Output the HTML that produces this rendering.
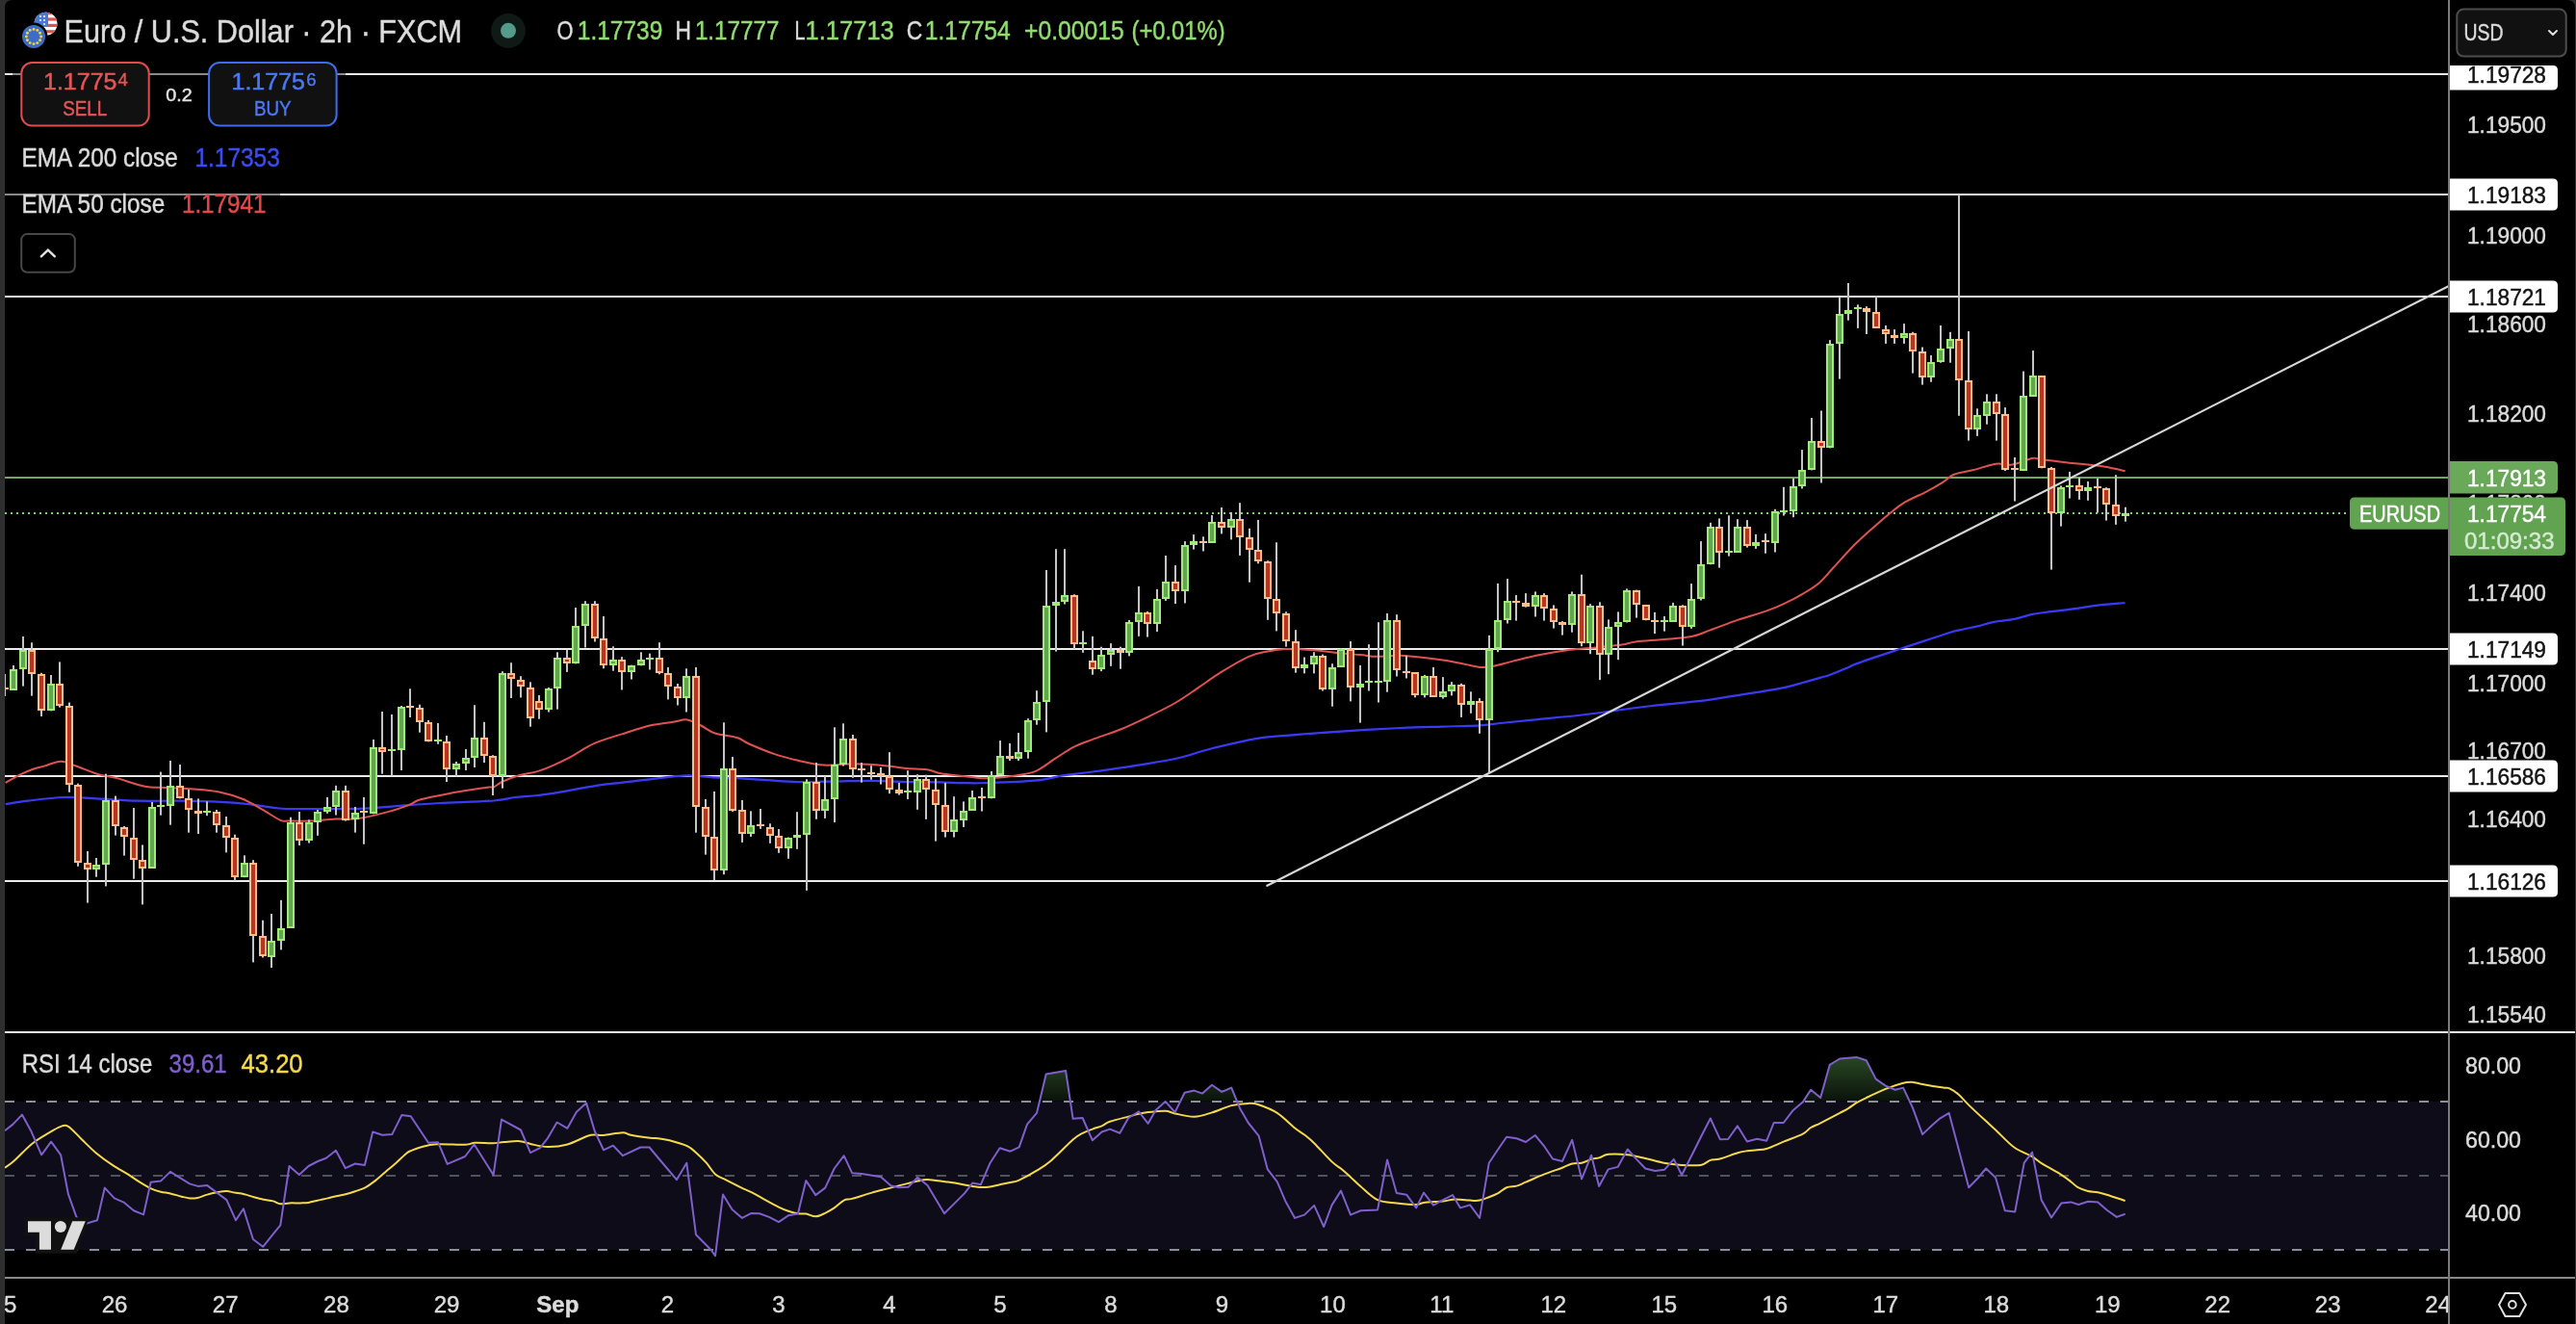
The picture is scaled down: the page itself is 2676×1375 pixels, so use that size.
<!DOCTYPE html><html><head><meta charset="utf-8"><style>
html,body{margin:0;padding:0;background:#2e2e2e;}
body{width:2676px;height:1375px;overflow:hidden;position:relative;}
svg{position:absolute;left:0;top:0;display:block;will-change:transform;}
text{font-family:"Liberation Sans", sans-serif;}
</style></head><body>
<svg width="2676" height="1375" viewBox="0 0 2676 1375">
<defs>
<clipPath id="chartclip"><rect x="5" y="0" width="2538" height="1071"/></clipPath>
<clipPath id="rsiclip"><rect x="5" y="1073" width="2538" height="253"/></clipPath>
<clipPath id="obclip"><rect x="5" y="1073" width="2538" height="70.7"/></clipPath>
<linearGradient id="obg" x1="0" y1="1095" x2="0" y2="1144" gradientUnits="userSpaceOnUse">
<stop offset="0" stop-color="#2a4a26" stop-opacity="1"/><stop offset="1" stop-color="#0a120a" stop-opacity="1"/></linearGradient>
</defs>
<path d="M5,8 Q5,0 13,0 L2667,0 Q2675,0 2675,8 L2675,1375 L5,1375 Z" fill="#000"/>

<g clip-path="url(#chartclip)">
<rect x="5" y="76" width="2538" height="2" fill="#ebebeb"/>
<rect x="5" y="201" width="2538" height="2" fill="#ebebeb"/>
<rect x="5" y="307" width="2538" height="2" fill="#ebebeb"/>
<rect x="5" y="673" width="2538" height="2" fill="#ebebeb"/>
<rect x="5" y="805" width="2538" height="2" fill="#ebebeb"/>
<rect x="5" y="914" width="2538" height="2" fill="#ebebeb"/>
<rect x="5" y="495" width="2538" height="2" fill="#6ea85c"/>
<rect x="13" y="76" width="346" height="2" fill="#8a8a8a"/>
<rect x="5" y="201" width="286" height="2" fill="#8a8a8a"/>
<line x1="5" y1="533" x2="2441" y2="533" stroke="#7ed46a" stroke-width="2" stroke-dasharray="2 4"/>
<path d="M5.7,835.2 C9.5,834.6 18.6,832.9 28.7,831.7 C38.8,830.5 54.0,828.4 66.0,828.0 C78.0,827.6 87.6,828.8 100.5,829.4 C113.4,830.0 129.2,831.3 143.5,831.7 C157.8,832.1 172.2,831.5 186.6,831.7 C200.9,831.9 217.6,832.3 229.6,832.9 C241.6,833.5 248.2,834.1 258.3,835.2 C268.4,836.3 279.6,838.7 289.9,839.5 C300.2,840.3 310.3,839.9 320.0,840.0 C329.7,840.1 337.5,840.1 348.3,840.0 C359.1,839.9 372.5,839.9 384.6,839.3 C396.7,838.7 408.7,837.3 420.8,836.4 C432.9,835.5 441.8,834.8 457.1,834.0 C472.4,833.2 499.7,832.5 512.7,831.5 C525.7,830.5 527.3,828.9 535.0,828.0 C542.7,827.1 549.8,827.1 559.0,826.0 C568.2,824.9 580.7,822.7 590.4,821.1 C600.1,819.5 606.9,817.8 617.0,816.3 C627.1,814.8 639.1,813.6 650.8,812.2 C662.5,810.8 676.6,809.0 687.1,807.9 C697.6,806.8 704.4,805.5 713.7,805.4 C723.0,805.3 734.1,806.9 742.7,807.4 C751.3,807.9 756.5,807.7 765.4,808.2 C774.3,808.7 785.7,809.6 796.3,810.2 C806.9,810.8 816.8,811.8 828.9,812.0 C841.0,812.2 856.1,811.7 868.8,811.5 C881.5,811.3 892.9,810.8 905.0,810.9 C917.1,811.0 929.2,811.8 941.3,812.0 C953.4,812.2 967.7,812.2 977.5,812.4 C987.3,812.6 992.3,813.0 1000.0,813.1 C1007.7,813.2 1011.4,813.5 1023.8,813.1 C1036.2,812.7 1060.9,812.0 1074.6,810.7 C1088.3,809.4 1095.9,806.6 1106.0,805.1 C1116.1,803.6 1120.9,803.5 1135.0,801.5 C1149.1,799.5 1175.6,795.7 1190.6,793.3 C1205.6,790.9 1214.0,789.5 1225.0,787.0 C1236.0,784.5 1243.0,781.3 1256.3,778.0 C1269.6,774.7 1291.3,769.5 1304.6,767.1 C1317.9,764.8 1321.9,765.1 1336.0,763.9 C1350.1,762.7 1369.4,761.1 1389.2,759.8 C1409.0,758.5 1436.8,756.9 1455.0,756.0 C1473.2,755.1 1484.6,755.0 1498.3,754.6 C1512.0,754.2 1526.9,754.0 1537.0,753.4 C1547.1,752.8 1549.1,752.0 1558.8,751.0 C1568.5,750.0 1580.9,748.7 1595.0,747.3 C1609.1,745.9 1628.4,744.2 1643.4,742.5 C1658.4,740.8 1672.8,738.6 1685.0,737.0 C1697.2,735.4 1703.0,734.5 1716.3,733.0 C1729.6,731.5 1748.5,730.2 1764.6,728.2 C1780.7,726.2 1798.8,723.1 1812.9,720.9 C1827.0,718.7 1839.1,716.9 1849.2,714.9 C1859.3,712.9 1866.2,710.7 1873.4,708.8 C1880.7,706.9 1888.3,704.6 1892.7,703.3 C1897.1,702.0 1895.5,702.9 1900.0,701.2 C1904.5,699.5 1915.0,695.3 1919.8,693.3 C1924.6,691.3 1920.4,692.2 1929.0,689.1 C1937.6,686.0 1959.6,678.7 1971.3,674.8 C1983.0,670.9 1990.0,668.6 1999.0,665.6 C2008.0,662.6 2018.8,659.0 2025.4,657.0 C2032.0,655.0 2033.8,654.8 2038.6,653.7 C2043.4,652.6 2048.9,651.7 2054.4,650.4 C2059.9,649.1 2065.2,647.0 2071.6,645.8 C2078.0,644.5 2086.1,644.2 2092.7,642.9 C2099.3,641.6 2104.8,639.2 2111.2,637.9 C2117.6,636.6 2123.3,636.2 2131.0,635.2 C2138.7,634.2 2149.7,633.0 2157.4,631.9 C2165.1,630.8 2168.8,629.9 2177.2,628.9 C2185.5,627.9 2202.4,626.5 2207.5,626.0" fill="none" stroke="#3a3af6" stroke-width="2.2" stroke-linejoin="round"/>
<path d="M5.7,813.0 C8.3,811.5 16.7,806.6 21.5,804.2 C26.3,801.8 30.3,800.1 34.4,798.7 C38.5,797.3 41.1,796.9 45.9,795.6 C50.7,794.3 57.8,790.8 63.1,790.7 C68.4,790.6 71.3,792.9 77.5,795.0 C83.7,797.1 93.3,801.5 100.5,803.6 C107.7,805.8 112.4,805.8 120.5,807.9 C128.6,810.0 140.7,814.8 149.3,816.5 C157.9,818.2 163.6,817.5 172.2,818.0 C180.8,818.5 191.8,818.7 200.9,819.4 C210.0,820.1 218.1,820.5 226.7,822.3 C235.3,824.1 244.9,826.9 252.6,830.0 C260.3,833.1 266.2,837.3 272.7,840.9 C279.1,844.5 286.8,849.8 291.3,851.8 C295.9,853.8 294.5,852.5 300.0,852.6 C305.5,852.7 316.1,852.9 324.2,852.6 C332.2,852.3 340.2,851.0 348.3,850.6 C356.4,850.2 363.2,851.4 372.5,850.1 C381.8,848.8 395.0,845.3 403.9,842.9 C412.8,840.5 420.5,837.6 425.7,835.6 C430.9,833.6 430.1,832.4 435.3,830.8 C440.5,829.2 449.0,827.6 457.1,826.0 C465.2,824.4 475.2,822.5 483.7,821.1 C492.2,819.7 503.1,818.1 507.9,817.5 C512.7,816.9 510.3,818.5 512.7,817.5 C515.1,816.5 517.9,813.6 522.4,811.5 C526.9,809.4 533.5,806.9 540.0,805.0 C546.5,803.1 553.0,803.1 561.4,800.1 C569.8,797.1 581.1,792.0 590.4,787.3 C599.7,782.6 607.7,776.2 617.0,772.1 C626.3,768.0 636.3,765.5 646.0,762.4 C655.7,759.3 666.1,755.6 675.0,753.5 C683.9,751.4 692.8,750.8 699.2,749.8 C705.7,748.8 708.9,746.8 713.7,747.4 C718.5,748.0 723.4,751.1 728.2,753.5 C733.0,755.9 736.5,759.4 742.7,761.5 C748.9,763.6 759.7,764.2 765.6,766.0 C771.5,767.8 771.5,769.6 778.1,772.5 C784.7,775.4 796.8,780.5 805.3,783.4 C813.8,786.3 820.4,787.8 828.9,789.7 C837.4,791.6 846.4,794.0 856.1,794.6 C865.8,795.2 876.3,793.2 886.9,793.3 C897.5,793.4 910.4,794.4 919.5,795.2 C928.6,796.0 934.0,797.2 941.3,797.9 C948.5,798.6 957.0,798.4 963.0,799.3 C969.0,800.2 972.2,802.3 977.5,803.3 C982.8,804.3 987.7,804.7 995.0,805.5 C1002.3,806.3 1014.2,808.0 1021.4,808.3 C1028.6,808.6 1032.2,808.0 1038.3,807.5 C1044.3,807.0 1051.2,806.3 1057.7,805.1 C1064.2,803.9 1070.6,803.2 1077.0,800.3 C1083.4,797.4 1089.8,791.8 1096.3,787.7 C1102.8,783.6 1109.2,778.9 1115.7,775.6 C1122.2,772.3 1127.0,770.9 1135.0,767.9 C1143.0,764.9 1154.7,761.2 1164.0,757.5 C1173.3,753.8 1181.3,749.9 1190.6,745.4 C1199.9,740.9 1211.1,735.6 1220.0,730.5 C1228.9,725.4 1236.2,720.0 1244.2,714.6 C1252.2,709.2 1259.5,703.7 1268.3,698.2 C1277.1,692.7 1289.2,685.4 1297.3,681.8 C1305.4,678.2 1310.2,677.7 1316.7,676.4 C1323.2,675.1 1328.0,674.2 1336.0,674.0 C1344.0,673.8 1356.1,674.5 1365.0,675.2 C1373.9,675.9 1381.1,677.3 1389.2,678.1 C1397.3,678.9 1406.6,679.5 1413.4,680.1 C1420.2,680.7 1423.4,681.7 1430.3,681.8 C1437.2,681.9 1446.5,680.5 1455.0,680.7 C1463.5,681.0 1472.2,682.2 1481.4,683.3 C1490.6,684.4 1501.1,685.8 1510.4,687.4 C1519.7,689.0 1530.2,692.2 1537.0,692.9 C1543.8,693.6 1545.9,692.7 1551.5,691.7 C1557.1,690.7 1562.8,688.8 1570.8,686.9 C1578.8,685.0 1589.7,682.1 1599.8,680.1 C1609.9,678.1 1621.6,676.1 1631.3,674.8 C1641.0,673.5 1649.0,673.3 1657.9,672.4 C1666.9,671.5 1678.1,670.6 1685.0,669.6 C1691.9,668.6 1692.1,667.4 1699.3,666.5 C1706.5,665.6 1718.6,665.0 1728.3,664.1 C1738.0,663.2 1749.2,662.6 1757.3,661.0 C1765.4,659.4 1768.6,657.3 1776.7,654.4 C1784.8,651.5 1796.0,646.9 1805.7,643.6 C1815.4,640.3 1826.7,637.4 1834.7,634.6 C1842.8,631.8 1847.5,629.7 1854.0,626.6 C1860.5,623.5 1867.4,619.9 1873.4,616.3 C1879.5,612.7 1885.1,609.4 1890.3,604.9 C1895.5,600.4 1898.5,596.0 1904.8,589.2 C1911.1,582.4 1920.3,571.8 1928.3,564.0 C1936.2,556.2 1944.4,549.1 1952.5,542.2 C1960.6,535.4 1968.7,528.1 1976.7,522.9 C1984.8,517.7 1994.0,514.4 2000.8,510.8 C2007.6,507.2 2013.0,504.1 2017.8,501.1 C2022.6,498.1 2024.6,494.8 2029.8,492.7 C2035.0,490.6 2041.9,490.1 2049.2,488.3 C2056.5,486.5 2066.6,482.8 2073.4,481.8 C2080.2,480.8 2084.1,483.5 2090.3,482.5 C2096.5,481.5 2106.5,477.0 2110.8,476.0 C2115.1,475.0 2113.5,475.9 2116.2,476.3 C2118.9,476.7 2121.0,477.3 2127.1,478.1 C2133.2,478.9 2144.1,480.0 2152.5,480.9 C2160.9,481.8 2171.8,482.9 2177.8,483.6 C2183.8,484.3 2183.7,484.1 2188.7,485.0 C2193.7,485.9 2204.5,488.5 2207.7,489.2" fill="none" stroke="#e05252" stroke-width="2" stroke-linejoin="round"/>
<rect x="4" y="700.0" width="2" height="23.0" fill="#c4c4c8"/>
<rect x="13" y="691.0" width="2" height="25.6" fill="#c4c4c8"/>
<rect x="23" y="661.0" width="2" height="51.6" fill="#c4c4c8"/>
<rect x="32" y="667.3" width="2" height="55.4" fill="#c4c4c8"/>
<rect x="42" y="698.8" width="2" height="45.2" fill="#c4c4c8"/>
<rect x="52" y="701.0" width="2" height="37.4" fill="#c4c4c8"/>
<rect x="61" y="687.4" width="2" height="47.3" fill="#c4c4c8"/>
<rect x="71" y="729.5" width="2" height="93.3" fill="#c4c4c8"/>
<rect x="80" y="813.6" width="2" height="86.2" fill="#c4c4c8"/>
<rect x="90" y="884.0" width="2" height="53.6" fill="#c4c4c8"/>
<rect x="99" y="891.0" width="2" height="19.7" fill="#c4c4c8"/>
<rect x="109" y="803.6" width="2" height="116.8" fill="#c4c4c8"/>
<rect x="119" y="826.6" width="2" height="41.0" fill="#c4c4c8"/>
<rect x="128" y="858.0" width="2" height="30.6" fill="#c4c4c8"/>
<rect x="138" y="839.0" width="2" height="73.7" fill="#c4c4c8"/>
<rect x="147" y="877.4" width="2" height="62.0" fill="#c4c4c8"/>
<rect x="157" y="833.0" width="2" height="69.0" fill="#c4c4c8"/>
<rect x="166" y="801.6" width="2" height="45.1" fill="#c4c4c8"/>
<rect x="176" y="790.0" width="2" height="66.7" fill="#c4c4c8"/>
<rect x="186" y="794.0" width="2" height="35.4" fill="#c4c4c8"/>
<rect x="195" y="820.0" width="2" height="44.7" fill="#c4c4c8"/>
<rect x="205" y="829.4" width="2" height="36.6" fill="#c4c4c8"/>
<rect x="214" y="832.3" width="2" height="14.9" fill="#c4c4c8"/>
<rect x="224" y="841.0" width="2" height="23.7" fill="#c4c4c8"/>
<rect x="234" y="848.0" width="2" height="37.4" fill="#c4c4c8"/>
<rect x="243" y="866.7" width="2" height="48.0" fill="#c4c4c8"/>
<rect x="253" y="888.3" width="2" height="22.9" fill="#c4c4c8"/>
<rect x="262" y="893.2" width="2" height="106.2" fill="#c4c4c8"/>
<rect x="272" y="955.7" width="2" height="38.8" fill="#c4c4c8"/>
<rect x="281" y="949.0" width="2" height="56.0" fill="#c4c4c8"/>
<rect x="291" y="934.8" width="2" height="51.6" fill="#c4c4c8"/>
<rect x="301" y="848.7" width="2" height="114.8" fill="#c4c4c8"/>
<rect x="310" y="843.0" width="2" height="35.0" fill="#c4c4c8"/>
<rect x="320" y="851.4" width="2" height="24.1" fill="#c4c4c8"/>
<rect x="329" y="841.0" width="2" height="26.8" fill="#c4c4c8"/>
<rect x="339" y="828.0" width="2" height="16.8" fill="#c4c4c8"/>
<rect x="348" y="815.8" width="2" height="30.7" fill="#c4c4c8"/>
<rect x="358" y="815.8" width="2" height="36.8" fill="#c4c4c8"/>
<rect x="368" y="838.0" width="2" height="26.6" fill="#c4c4c8"/>
<rect x="377" y="828.0" width="2" height="48.7" fill="#c4c4c8"/>
<rect x="387" y="768.0" width="2" height="77.3" fill="#c4c4c8"/>
<rect x="396" y="739.0" width="2" height="64.7" fill="#c4c4c8"/>
<rect x="406" y="742.0" width="2" height="63.4" fill="#c4c4c8"/>
<rect x="416" y="733.0" width="2" height="67.0" fill="#c4c4c8"/>
<rect x="425" y="715.3" width="2" height="29.7" fill="#c4c4c8"/>
<rect x="435" y="731.7" width="2" height="29.0" fill="#c4c4c8"/>
<rect x="444" y="748.0" width="2" height="22.4" fill="#c4c4c8"/>
<rect x="454" y="751.0" width="2" height="21.8" fill="#c4c4c8"/>
<rect x="463" y="763.9" width="2" height="48.1" fill="#c4c4c8"/>
<rect x="473" y="791.0" width="2" height="15.0" fill="#c4c4c8"/>
<rect x="483" y="778.0" width="2" height="22.0" fill="#c4c4c8"/>
<rect x="492" y="732.2" width="2" height="64.8" fill="#c4c4c8"/>
<rect x="502" y="749.8" width="2" height="42.3" fill="#c4c4c8"/>
<rect x="511" y="784.2" width="2" height="41.8" fill="#c4c4c8"/>
<rect x="521" y="697.2" width="2" height="121.5" fill="#c4c4c8"/>
<rect x="530" y="688.2" width="2" height="36.8" fill="#c4c4c8"/>
<rect x="540" y="702.2" width="2" height="22.3" fill="#c4c4c8"/>
<rect x="550" y="708.3" width="2" height="46.4" fill="#c4c4c8"/>
<rect x="559" y="722.0" width="2" height="24.7" fill="#c4c4c8"/>
<rect x="569" y="714.0" width="2" height="25.5" fill="#c4c4c8"/>
<rect x="578" y="677.3" width="2" height="59.3" fill="#c4c4c8"/>
<rect x="588" y="675.0" width="2" height="22.9" fill="#c4c4c8"/>
<rect x="597" y="631.0" width="2" height="58.4" fill="#c4c4c8"/>
<rect x="607" y="624.2" width="2" height="48.3" fill="#c4c4c8"/>
<rect x="617" y="624.2" width="2" height="42.3" fill="#c4c4c8"/>
<rect x="626" y="640.0" width="2" height="54.3" fill="#c4c4c8"/>
<rect x="636" y="671.3" width="2" height="25.4" fill="#c4c4c8"/>
<rect x="645" y="682.2" width="2" height="34.3" fill="#c4c4c8"/>
<rect x="655" y="690.6" width="2" height="15.0" fill="#c4c4c8"/>
<rect x="665" y="677.3" width="2" height="14.1" fill="#c4c4c8"/>
<rect x="674" y="678.6" width="2" height="16.9" fill="#c4c4c8"/>
<rect x="684" y="667.2" width="2" height="33.1" fill="#c4c4c8"/>
<rect x="693" y="693.0" width="2" height="33.4" fill="#c4c4c8"/>
<rect x="703" y="710.0" width="2" height="22.5" fill="#c4c4c8"/>
<rect x="712" y="694.3" width="2" height="45.2" fill="#c4c4c8"/>
<rect x="722" y="693.0" width="2" height="171.7" fill="#c4c4c8"/>
<rect x="732" y="830.0" width="2" height="57.6" fill="#c4c4c8"/>
<rect x="741" y="821.9" width="2" height="92.3" fill="#c4c4c8"/>
<rect x="751" y="750.3" width="2" height="157.9" fill="#c4c4c8"/>
<rect x="760" y="786.0" width="2" height="56.9" fill="#c4c4c8"/>
<rect x="770" y="830.9" width="2" height="44.0" fill="#c4c4c8"/>
<rect x="779" y="842.3" width="2" height="26.6" fill="#c4c4c8"/>
<rect x="789" y="840.0" width="2" height="20.8" fill="#c4c4c8"/>
<rect x="799" y="855.3" width="2" height="20.5" fill="#c4c4c8"/>
<rect x="808" y="861.0" width="2" height="24.8" fill="#c4c4c8"/>
<rect x="818" y="869.5" width="2" height="22.3" fill="#c4c4c8"/>
<rect x="827" y="843.2" width="2" height="38.6" fill="#c4c4c8"/>
<rect x="837" y="809.3" width="2" height="115.5" fill="#c4c4c8"/>
<rect x="847" y="792.0" width="2" height="58.8" fill="#c4c4c8"/>
<rect x="856" y="806.0" width="2" height="43.9" fill="#c4c4c8"/>
<rect x="866" y="755.3" width="2" height="98.8" fill="#c4c4c8"/>
<rect x="875" y="751.3" width="2" height="44.2" fill="#c4c4c8"/>
<rect x="885" y="763.0" width="2" height="44.8" fill="#c4c4c8"/>
<rect x="894" y="792.0" width="2" height="20.7" fill="#c4c4c8"/>
<rect x="904" y="795.2" width="2" height="14.5" fill="#c4c4c8"/>
<rect x="914" y="797.0" width="2" height="17.6" fill="#c4c4c8"/>
<rect x="923" y="781.2" width="2" height="43.0" fill="#c4c4c8"/>
<rect x="933" y="812.9" width="2" height="12.7" fill="#c4c4c8"/>
<rect x="942" y="800.2" width="2" height="29.8" fill="#c4c4c8"/>
<rect x="952" y="804.2" width="2" height="36.6" fill="#c4c4c8"/>
<rect x="961" y="804.6" width="2" height="46.2" fill="#c4c4c8"/>
<rect x="971" y="808.4" width="2" height="65.2" fill="#c4c4c8"/>
<rect x="981" y="812.9" width="2" height="56.6" fill="#c4c4c8"/>
<rect x="990" y="827.2" width="2" height="42.3" fill="#c4c4c8"/>
<rect x="1000" y="832.4" width="2" height="26.6" fill="#c4c4c8"/>
<rect x="1009" y="821.0" width="2" height="20.6" fill="#c4c4c8"/>
<rect x="1019" y="818.0" width="2" height="24.6" fill="#c4c4c8"/>
<rect x="1029" y="801.0" width="2" height="28.3" fill="#c4c4c8"/>
<rect x="1038" y="769.1" width="2" height="35.6" fill="#c4c4c8"/>
<rect x="1048" y="772.0" width="2" height="18.0" fill="#c4c4c8"/>
<rect x="1057" y="761.1" width="2" height="28.9" fill="#c4c4c8"/>
<rect x="1067" y="746.2" width="2" height="41.5" fill="#c4c4c8"/>
<rect x="1076" y="717.2" width="2" height="35.5" fill="#c4c4c8"/>
<rect x="1086" y="592.0" width="2" height="168.4" fill="#c4c4c8"/>
<rect x="1096" y="570.2" width="2" height="106.4" fill="#c4c4c8"/>
<rect x="1105" y="570.2" width="2" height="57.3" fill="#c4c4c8"/>
<rect x="1115" y="617.3" width="2" height="56.8" fill="#c4c4c8"/>
<rect x="1124" y="655.3" width="2" height="22.5" fill="#c4c4c8"/>
<rect x="1134" y="660.8" width="2" height="39.9" fill="#c4c4c8"/>
<rect x="1143" y="671.7" width="2" height="25.4" fill="#c4c4c8"/>
<rect x="1153" y="668.1" width="2" height="23.7" fill="#c4c4c8"/>
<rect x="1163" y="671.7" width="2" height="23.0" fill="#c4c4c8"/>
<rect x="1172" y="643.9" width="2" height="37.5" fill="#c4c4c8"/>
<rect x="1182" y="608.9" width="2" height="51.9" fill="#c4c4c8"/>
<rect x="1191" y="635.0" width="2" height="26.6" fill="#c4c4c8"/>
<rect x="1201" y="611.8" width="2" height="44.2" fill="#c4c4c8"/>
<rect x="1210" y="577.0" width="2" height="46.9" fill="#c4c4c8"/>
<rect x="1220" y="587.1" width="2" height="39.9" fill="#c4c4c8"/>
<rect x="1230" y="562.1" width="2" height="64.3" fill="#c4c4c8"/>
<rect x="1239" y="555.1" width="2" height="15.5" fill="#c4c4c8"/>
<rect x="1249" y="557.3" width="2" height="15.2" fill="#c4c4c8"/>
<rect x="1258" y="535.0" width="2" height="29.0" fill="#c4c4c8"/>
<rect x="1268" y="527.0" width="2" height="27.4" fill="#c4c4c8"/>
<rect x="1278" y="531.9" width="2" height="28.5" fill="#c4c4c8"/>
<rect x="1287" y="522.2" width="2" height="54.7" fill="#c4c4c8"/>
<rect x="1297" y="548.8" width="2" height="55.9" fill="#c4c4c8"/>
<rect x="1306" y="539.9" width="2" height="45.4" fill="#c4c4c8"/>
<rect x="1316" y="582.2" width="2" height="61.6" fill="#c4c4c8"/>
<rect x="1325" y="563.3" width="2" height="92.1" fill="#c4c4c8"/>
<rect x="1335" y="635.3" width="2" height="36.3" fill="#c4c4c8"/>
<rect x="1345" y="654.2" width="2" height="44.5" fill="#c4c4c8"/>
<rect x="1354" y="682.5" width="2" height="16.9" fill="#c4c4c8"/>
<rect x="1364" y="677.2" width="2" height="22.2" fill="#c4c4c8"/>
<rect x="1373" y="679.6" width="2" height="37.9" fill="#c4c4c8"/>
<rect x="1383" y="689.2" width="2" height="44.5" fill="#c4c4c8"/>
<rect x="1392" y="673.5" width="2" height="19.1" fill="#c4c4c8"/>
<rect x="1402" y="666.0" width="2" height="62.4" fill="#c4c4c8"/>
<rect x="1412" y="690.9" width="2" height="59.7" fill="#c4c4c8"/>
<rect x="1421" y="669.2" width="2" height="48.3" fill="#c4c4c8"/>
<rect x="1431" y="646.2" width="2" height="83.4" fill="#c4c4c8"/>
<rect x="1440" y="637.0" width="2" height="81.7" fill="#c4c4c8"/>
<rect x="1450" y="638.2" width="2" height="64.3" fill="#c4c4c8"/>
<rect x="1460" y="680.8" width="2" height="23.7" fill="#c4c4c8"/>
<rect x="1469" y="698.5" width="2" height="25.9" fill="#c4c4c8"/>
<rect x="1479" y="700.9" width="2" height="23.5" fill="#c4c4c8"/>
<rect x="1488" y="692.9" width="2" height="30.7" fill="#c4c4c8"/>
<rect x="1498" y="703.1" width="2" height="22.5" fill="#c4c4c8"/>
<rect x="1507" y="708.2" width="2" height="14.2" fill="#c4c4c8"/>
<rect x="1517" y="709.8" width="2" height="35.1" fill="#c4c4c8"/>
<rect x="1527" y="718.3" width="2" height="22.5" fill="#c4c4c8"/>
<rect x="1536" y="725.1" width="2" height="36.7" fill="#c4c4c8"/>
<rect x="1546" y="659.8" width="2" height="143.1" fill="#c4c4c8"/>
<rect x="1555" y="605.9" width="2" height="71.3" fill="#c4c4c8"/>
<rect x="1565" y="601.1" width="2" height="46.4" fill="#c4c4c8"/>
<rect x="1574" y="618.0" width="2" height="26.6" fill="#c4c4c8"/>
<rect x="1584" y="616.1" width="2" height="14.5" fill="#c4c4c8"/>
<rect x="1594" y="614.4" width="2" height="26.1" fill="#c4c4c8"/>
<rect x="1603" y="616.1" width="2" height="28.5" fill="#c4c4c8"/>
<rect x="1613" y="628.4" width="2" height="24.2" fill="#c4c4c8"/>
<rect x="1622" y="645.1" width="2" height="14.5" fill="#c4c4c8"/>
<rect x="1632" y="614.4" width="2" height="42.3" fill="#c4c4c8"/>
<rect x="1642" y="596.7" width="2" height="74.5" fill="#c4c4c8"/>
<rect x="1651" y="627.2" width="2" height="52.0" fill="#c4c4c8"/>
<rect x="1661" y="625.3" width="2" height="80.9" fill="#c4c4c8"/>
<rect x="1670" y="643.4" width="2" height="56.8" fill="#c4c4c8"/>
<rect x="1680" y="635.4" width="2" height="49.8" fill="#c4c4c8"/>
<rect x="1689" y="611.4" width="2" height="35.1" fill="#c4c4c8"/>
<rect x="1699" y="612.6" width="2" height="29.0" fill="#c4c4c8"/>
<rect x="1709" y="627.9" width="2" height="16.4" fill="#c4c4c8"/>
<rect x="1718" y="635.8" width="2" height="22.3" fill="#c4c4c8"/>
<rect x="1728" y="640.0" width="2" height="15.6" fill="#c4c4c8"/>
<rect x="1737" y="625.9" width="2" height="19.6" fill="#c4c4c8"/>
<rect x="1747" y="628.3" width="2" height="42.3" fill="#c4c4c8"/>
<rect x="1756" y="606.1" width="2" height="46.7" fill="#c4c4c8"/>
<rect x="1766" y="562.1" width="2" height="61.4" fill="#c4c4c8"/>
<rect x="1776" y="542.8" width="2" height="43.5" fill="#c4c4c8"/>
<rect x="1785" y="538.4" width="2" height="51.3" fill="#c4c4c8"/>
<rect x="1795" y="535.3" width="2" height="42.3" fill="#c4c4c8"/>
<rect x="1804" y="539.2" width="2" height="34.3" fill="#c4c4c8"/>
<rect x="1814" y="540.1" width="2" height="28.5" fill="#c4c4c8"/>
<rect x="1823" y="554.9" width="2" height="15.0" fill="#c4c4c8"/>
<rect x="1833" y="554.1" width="2" height="20.6" fill="#c4c4c8"/>
<rect x="1843" y="528.8" width="2" height="44.7" fill="#c4c4c8"/>
<rect x="1852" y="505.8" width="2" height="29.7" fill="#c4c4c8"/>
<rect x="1862" y="496.6" width="2" height="40.6" fill="#c4c4c8"/>
<rect x="1871" y="467.1" width="2" height="40.4" fill="#c4c4c8"/>
<rect x="1881" y="434.0" width="2" height="54.4" fill="#c4c4c8"/>
<rect x="1891" y="426.5" width="2" height="75.0" fill="#c4c4c8"/>
<rect x="1900" y="353.2" width="2" height="112.2" fill="#c4c4c8"/>
<rect x="1910" y="308.5" width="2" height="85.1" fill="#c4c4c8"/>
<rect x="1919" y="294.0" width="2" height="38.7" fill="#c4c4c8"/>
<rect x="1929" y="316.3" width="2" height="24.6" fill="#c4c4c8"/>
<rect x="1938" y="318.2" width="2" height="28.8" fill="#c4c4c8"/>
<rect x="1948" y="307.3" width="2" height="33.8" fill="#c4c4c8"/>
<rect x="1958" y="338.0" width="2" height="18.9" fill="#c4c4c8"/>
<rect x="1967" y="342.1" width="2" height="14.8" fill="#c4c4c8"/>
<rect x="1977" y="336.1" width="2" height="20.8" fill="#c4c4c8"/>
<rect x="1986" y="344.8" width="2" height="42.8" fill="#c4c4c8"/>
<rect x="1996" y="360.5" width="2" height="39.1" fill="#c4c4c8"/>
<rect x="2005" y="368.9" width="2" height="27.8" fill="#c4c4c8"/>
<rect x="2015" y="338.0" width="2" height="38.7" fill="#c4c4c8"/>
<rect x="2025" y="344.8" width="2" height="31.9" fill="#c4c4c8"/>
<rect x="2034" y="202.0" width="2" height="229.8" fill="#c4c4c8"/>
<rect x="2044" y="344.0" width="2" height="113.6" fill="#c4c4c8"/>
<rect x="2053" y="424.3" width="2" height="28.5" fill="#c4c4c8"/>
<rect x="2063" y="409.3" width="2" height="31.4" fill="#c4c4c8"/>
<rect x="2073" y="409.3" width="2" height="48.3" fill="#c4c4c8"/>
<rect x="2082" y="423.1" width="2" height="66.0" fill="#c4c4c8"/>
<rect x="2092" y="475.0" width="2" height="45.5" fill="#c4c4c8"/>
<rect x="2101" y="385.6" width="2" height="103.5" fill="#c4c4c8"/>
<rect x="2111" y="364.1" width="2" height="47.6" fill="#c4c4c8"/>
<rect x="2120" y="390.4" width="2" height="95.9" fill="#c4c4c8"/>
<rect x="2130" y="485.0" width="2" height="106.6" fill="#c4c4c8"/>
<rect x="2140" y="504.4" width="2" height="42.2" fill="#c4c4c8"/>
<rect x="2149" y="489.9" width="2" height="27.7" fill="#c4c4c8"/>
<rect x="2159" y="495.9" width="2" height="23.0" fill="#c4c4c8"/>
<rect x="2168" y="500.0" width="2" height="19.8" fill="#c4c4c8"/>
<rect x="2178" y="496.8" width="2" height="35.7" fill="#c4c4c8"/>
<rect x="2187" y="506.2" width="2" height="34.4" fill="#c4c4c8"/>
<rect x="2197" y="493.2" width="2" height="51.6" fill="#c4c4c8"/>
<rect x="2207" y="526.7" width="2" height="15.0" fill="#c4c4c8"/>
<rect x="1" y="714" width="8" height="2" fill="#fcbd8a"/>
<rect x="10" y="695" width="8" height="22" fill="#a0ea78"/>
<rect x="12" y="697" width="4" height="18" fill="#62a550"/>
<rect x="20" y="675" width="8" height="20" fill="#a0ea78"/>
<rect x="22" y="677" width="4" height="16" fill="#62a550"/>
<rect x="29" y="675" width="8" height="25" fill="#fcbd8a"/>
<rect x="31" y="677" width="4" height="21" fill="#b83322"/>
<rect x="39" y="700" width="8" height="38" fill="#fcbd8a"/>
<rect x="41" y="702" width="4" height="34" fill="#b83322"/>
<rect x="49" y="710" width="8" height="28" fill="#a0ea78"/>
<rect x="51" y="712" width="4" height="24" fill="#62a550"/>
<rect x="58" y="710" width="8" height="23" fill="#fcbd8a"/>
<rect x="60" y="712" width="4" height="19" fill="#b83322"/>
<rect x="68" y="733" width="8" height="82" fill="#fcbd8a"/>
<rect x="70" y="735" width="4" height="78" fill="#b83322"/>
<rect x="77" y="815" width="8" height="81" fill="#fcbd8a"/>
<rect x="79" y="817" width="4" height="77" fill="#b83322"/>
<rect x="87" y="896" width="8" height="7" fill="#fcbd8a"/>
<rect x="89" y="898" width="4" height="3" fill="#b83322"/>
<rect x="96" y="898" width="8" height="5" fill="#a0ea78"/>
<rect x="98" y="900" width="4" height="1" fill="#62a550"/>
<rect x="106" y="831" width="8" height="67" fill="#a0ea78"/>
<rect x="108" y="833" width="4" height="63" fill="#62a550"/>
<rect x="116" y="831" width="8" height="27" fill="#fcbd8a"/>
<rect x="118" y="833" width="4" height="23" fill="#b83322"/>
<rect x="125" y="859" width="8" height="10" fill="#fcbd8a"/>
<rect x="127" y="861" width="4" height="6" fill="#b83322"/>
<rect x="135" y="870" width="8" height="23" fill="#fcbd8a"/>
<rect x="137" y="872" width="4" height="19" fill="#b83322"/>
<rect x="144" y="893" width="8" height="9" fill="#fcbd8a"/>
<rect x="146" y="895" width="4" height="5" fill="#b83322"/>
<rect x="154" y="838" width="8" height="64" fill="#a0ea78"/>
<rect x="156" y="840" width="4" height="60" fill="#62a550"/>
<rect x="163" y="836" width="8" height="2" fill="#a0ea78"/>
<rect x="173" y="816" width="8" height="21" fill="#a0ea78"/>
<rect x="175" y="818" width="4" height="17" fill="#62a550"/>
<rect x="183" y="816" width="8" height="13" fill="#fcbd8a"/>
<rect x="185" y="818" width="4" height="9" fill="#b83322"/>
<rect x="192" y="829" width="8" height="12" fill="#fcbd8a"/>
<rect x="194" y="831" width="4" height="8" fill="#b83322"/>
<rect x="202" y="842" width="8" height="3" fill="#fcbd8a"/>
<rect x="211" y="842" width="8" height="2" fill="#a0ea78"/>
<rect x="221" y="843" width="8" height="14" fill="#fcbd8a"/>
<rect x="223" y="845" width="4" height="10" fill="#b83322"/>
<rect x="231" y="857" width="8" height="13" fill="#fcbd8a"/>
<rect x="233" y="859" width="4" height="9" fill="#b83322"/>
<rect x="240" y="870" width="8" height="41" fill="#fcbd8a"/>
<rect x="242" y="872" width="4" height="37" fill="#b83322"/>
<rect x="250" y="896" width="8" height="15" fill="#a0ea78"/>
<rect x="252" y="898" width="4" height="11" fill="#62a550"/>
<rect x="259" y="896" width="8" height="76" fill="#fcbd8a"/>
<rect x="261" y="898" width="4" height="72" fill="#b83322"/>
<rect x="269" y="972" width="8" height="21" fill="#fcbd8a"/>
<rect x="271" y="974" width="4" height="17" fill="#b83322"/>
<rect x="278" y="977" width="8" height="17" fill="#a0ea78"/>
<rect x="280" y="979" width="4" height="13" fill="#62a550"/>
<rect x="288" y="964" width="8" height="13" fill="#a0ea78"/>
<rect x="290" y="966" width="4" height="9" fill="#62a550"/>
<rect x="298" y="854" width="8" height="110" fill="#a0ea78"/>
<rect x="300" y="856" width="4" height="106" fill="#62a550"/>
<rect x="307" y="854" width="8" height="19" fill="#fcbd8a"/>
<rect x="309" y="856" width="4" height="15" fill="#b83322"/>
<rect x="317" y="854" width="8" height="19" fill="#a0ea78"/>
<rect x="319" y="856" width="4" height="15" fill="#62a550"/>
<rect x="326" y="843" width="8" height="11" fill="#a0ea78"/>
<rect x="328" y="845" width="4" height="7" fill="#62a550"/>
<rect x="336" y="838" width="8" height="5" fill="#a0ea78"/>
<rect x="338" y="840" width="4" height="1" fill="#62a550"/>
<rect x="345" y="821" width="8" height="17" fill="#a0ea78"/>
<rect x="347" y="823" width="4" height="13" fill="#62a550"/>
<rect x="355" y="821" width="8" height="31" fill="#fcbd8a"/>
<rect x="357" y="823" width="4" height="27" fill="#b83322"/>
<rect x="365" y="844" width="8" height="7" fill="#a0ea78"/>
<rect x="367" y="846" width="4" height="3" fill="#62a550"/>
<rect x="374" y="842" width="8" height="2" fill="#fcbd8a"/>
<rect x="384" y="776" width="8" height="69" fill="#a0ea78"/>
<rect x="386" y="778" width="4" height="65" fill="#62a550"/>
<rect x="393" y="776" width="8" height="5" fill="#fcbd8a"/>
<rect x="395" y="778" width="4" height="1" fill="#b83322"/>
<rect x="403" y="778" width="8" height="2" fill="#a0ea78"/>
<rect x="413" y="734" width="8" height="45" fill="#a0ea78"/>
<rect x="415" y="736" width="4" height="41" fill="#62a550"/>
<rect x="422" y="733" width="8" height="2" fill="#fcbd8a"/>
<rect x="432" y="735" width="8" height="15" fill="#fcbd8a"/>
<rect x="434" y="737" width="4" height="11" fill="#b83322"/>
<rect x="441" y="750" width="8" height="20" fill="#fcbd8a"/>
<rect x="443" y="752" width="4" height="16" fill="#b83322"/>
<rect x="451" y="768" width="8" height="2" fill="#a0ea78"/>
<rect x="460" y="770" width="8" height="29" fill="#fcbd8a"/>
<rect x="462" y="772" width="4" height="25" fill="#b83322"/>
<rect x="470" y="793" width="8" height="6" fill="#a0ea78"/>
<rect x="472" y="795" width="4" height="2" fill="#62a550"/>
<rect x="480" y="787" width="8" height="6" fill="#a0ea78"/>
<rect x="482" y="789" width="4" height="2" fill="#62a550"/>
<rect x="489" y="766" width="8" height="21" fill="#a0ea78"/>
<rect x="491" y="768" width="4" height="17" fill="#62a550"/>
<rect x="499" y="766" width="8" height="19" fill="#fcbd8a"/>
<rect x="501" y="768" width="4" height="15" fill="#b83322"/>
<rect x="508" y="785" width="8" height="21" fill="#fcbd8a"/>
<rect x="510" y="787" width="4" height="17" fill="#b83322"/>
<rect x="518" y="699" width="8" height="107" fill="#a0ea78"/>
<rect x="520" y="701" width="4" height="103" fill="#62a550"/>
<rect x="527" y="699" width="8" height="6" fill="#fcbd8a"/>
<rect x="529" y="701" width="4" height="2" fill="#b83322"/>
<rect x="537" y="706" width="8" height="7" fill="#fcbd8a"/>
<rect x="539" y="708" width="4" height="3" fill="#b83322"/>
<rect x="547" y="714" width="8" height="32" fill="#fcbd8a"/>
<rect x="549" y="716" width="4" height="28" fill="#b83322"/>
<rect x="556" y="728" width="8" height="9" fill="#fcbd8a"/>
<rect x="558" y="730" width="4" height="5" fill="#b83322"/>
<rect x="566" y="715" width="8" height="22" fill="#a0ea78"/>
<rect x="568" y="717" width="4" height="18" fill="#62a550"/>
<rect x="575" y="683" width="8" height="32" fill="#a0ea78"/>
<rect x="577" y="685" width="4" height="28" fill="#62a550"/>
<rect x="585" y="683" width="8" height="6" fill="#fcbd8a"/>
<rect x="587" y="685" width="4" height="2" fill="#b83322"/>
<rect x="594" y="650" width="8" height="39" fill="#a0ea78"/>
<rect x="596" y="652" width="4" height="35" fill="#62a550"/>
<rect x="604" y="627" width="8" height="23" fill="#a0ea78"/>
<rect x="606" y="629" width="4" height="19" fill="#62a550"/>
<rect x="614" y="627" width="8" height="36" fill="#fcbd8a"/>
<rect x="616" y="629" width="4" height="32" fill="#b83322"/>
<rect x="623" y="663" width="8" height="28" fill="#fcbd8a"/>
<rect x="625" y="665" width="4" height="24" fill="#b83322"/>
<rect x="633" y="685" width="8" height="6" fill="#a0ea78"/>
<rect x="635" y="687" width="4" height="2" fill="#62a550"/>
<rect x="642" y="685" width="8" height="13" fill="#fcbd8a"/>
<rect x="644" y="687" width="4" height="9" fill="#b83322"/>
<rect x="652" y="691" width="8" height="7" fill="#a0ea78"/>
<rect x="654" y="693" width="4" height="3" fill="#62a550"/>
<rect x="662" y="685" width="8" height="6" fill="#a0ea78"/>
<rect x="664" y="687" width="4" height="2" fill="#62a550"/>
<rect x="671" y="683" width="8" height="2" fill="#a0ea78"/>
<rect x="681" y="683" width="8" height="16" fill="#fcbd8a"/>
<rect x="683" y="685" width="4" height="12" fill="#b83322"/>
<rect x="690" y="699" width="8" height="14" fill="#fcbd8a"/>
<rect x="692" y="701" width="4" height="10" fill="#b83322"/>
<rect x="700" y="713" width="8" height="12" fill="#fcbd8a"/>
<rect x="702" y="715" width="4" height="8" fill="#b83322"/>
<rect x="709" y="702" width="8" height="23" fill="#a0ea78"/>
<rect x="711" y="704" width="4" height="19" fill="#62a550"/>
<rect x="719" y="702" width="8" height="136" fill="#fcbd8a"/>
<rect x="721" y="704" width="4" height="132" fill="#b83322"/>
<rect x="729" y="838" width="8" height="31" fill="#fcbd8a"/>
<rect x="731" y="840" width="4" height="27" fill="#b83322"/>
<rect x="738" y="869" width="8" height="35" fill="#fcbd8a"/>
<rect x="740" y="871" width="4" height="31" fill="#b83322"/>
<rect x="748" y="798" width="8" height="106" fill="#a0ea78"/>
<rect x="750" y="800" width="4" height="102" fill="#62a550"/>
<rect x="757" y="798" width="8" height="44" fill="#fcbd8a"/>
<rect x="759" y="800" width="4" height="40" fill="#b83322"/>
<rect x="767" y="841" width="8" height="25" fill="#fcbd8a"/>
<rect x="769" y="843" width="4" height="21" fill="#b83322"/>
<rect x="776" y="857" width="8" height="9" fill="#a0ea78"/>
<rect x="778" y="859" width="4" height="5" fill="#62a550"/>
<rect x="786" y="856" width="8" height="2" fill="#fcbd8a"/>
<rect x="796" y="859" width="8" height="9" fill="#fcbd8a"/>
<rect x="798" y="861" width="4" height="5" fill="#b83322"/>
<rect x="805" y="868" width="8" height="13" fill="#fcbd8a"/>
<rect x="807" y="870" width="4" height="9" fill="#b83322"/>
<rect x="815" y="870" width="8" height="11" fill="#a0ea78"/>
<rect x="817" y="872" width="4" height="7" fill="#62a550"/>
<rect x="824" y="867" width="8" height="3" fill="#a0ea78"/>
<rect x="834" y="812" width="8" height="55" fill="#a0ea78"/>
<rect x="836" y="814" width="4" height="51" fill="#62a550"/>
<rect x="844" y="812" width="8" height="30" fill="#fcbd8a"/>
<rect x="846" y="814" width="4" height="26" fill="#b83322"/>
<rect x="853" y="830" width="8" height="12" fill="#a0ea78"/>
<rect x="855" y="832" width="4" height="8" fill="#62a550"/>
<rect x="863" y="794" width="8" height="36" fill="#a0ea78"/>
<rect x="865" y="796" width="4" height="32" fill="#62a550"/>
<rect x="872" y="767" width="8" height="27" fill="#a0ea78"/>
<rect x="874" y="769" width="4" height="23" fill="#62a550"/>
<rect x="882" y="767" width="8" height="32" fill="#fcbd8a"/>
<rect x="884" y="769" width="4" height="28" fill="#b83322"/>
<rect x="891" y="798" width="8" height="2" fill="#fcbd8a"/>
<rect x="901" y="802" width="8" height="2" fill="#fcbd8a"/>
<rect x="911" y="803" width="8" height="3" fill="#fcbd8a"/>
<rect x="920" y="806" width="8" height="14" fill="#fcbd8a"/>
<rect x="922" y="808" width="4" height="10" fill="#b83322"/>
<rect x="930" y="820" width="8" height="4" fill="#fcbd8a"/>
<rect x="939" y="821" width="8" height="2" fill="#a0ea78"/>
<rect x="949" y="809" width="8" height="14" fill="#a0ea78"/>
<rect x="951" y="811" width="4" height="10" fill="#62a550"/>
<rect x="958" y="809" width="8" height="11" fill="#fcbd8a"/>
<rect x="960" y="811" width="4" height="7" fill="#b83322"/>
<rect x="968" y="820" width="8" height="16" fill="#fcbd8a"/>
<rect x="970" y="822" width="4" height="12" fill="#b83322"/>
<rect x="978" y="836" width="8" height="28" fill="#fcbd8a"/>
<rect x="980" y="838" width="4" height="24" fill="#b83322"/>
<rect x="987" y="851" width="8" height="13" fill="#a0ea78"/>
<rect x="989" y="853" width="4" height="9" fill="#62a550"/>
<rect x="997" y="842" width="8" height="10" fill="#a0ea78"/>
<rect x="999" y="844" width="4" height="6" fill="#62a550"/>
<rect x="1006" y="828" width="8" height="14" fill="#a0ea78"/>
<rect x="1008" y="830" width="4" height="10" fill="#62a550"/>
<rect x="1016" y="827" width="8" height="2" fill="#fcbd8a"/>
<rect x="1026" y="805" width="8" height="24" fill="#a0ea78"/>
<rect x="1028" y="807" width="4" height="20" fill="#62a550"/>
<rect x="1035" y="785" width="8" height="20" fill="#a0ea78"/>
<rect x="1037" y="787" width="4" height="16" fill="#62a550"/>
<rect x="1045" y="785" width="8" height="3" fill="#fcbd8a"/>
<rect x="1054" y="781" width="8" height="7" fill="#a0ea78"/>
<rect x="1056" y="783" width="4" height="3" fill="#62a550"/>
<rect x="1064" y="748" width="8" height="33" fill="#a0ea78"/>
<rect x="1066" y="750" width="4" height="29" fill="#62a550"/>
<rect x="1073" y="729" width="8" height="19" fill="#a0ea78"/>
<rect x="1075" y="731" width="4" height="15" fill="#62a550"/>
<rect x="1083" y="629" width="8" height="100" fill="#a0ea78"/>
<rect x="1085" y="631" width="4" height="96" fill="#62a550"/>
<rect x="1093" y="625" width="8" height="4" fill="#a0ea78"/>
<rect x="1102" y="618" width="8" height="7" fill="#a0ea78"/>
<rect x="1104" y="620" width="4" height="3" fill="#62a550"/>
<rect x="1112" y="618" width="8" height="51" fill="#fcbd8a"/>
<rect x="1114" y="620" width="4" height="47" fill="#b83322"/>
<rect x="1121" y="667" width="8" height="2" fill="#a0ea78"/>
<rect x="1131" y="686" width="8" height="9" fill="#fcbd8a"/>
<rect x="1133" y="688" width="4" height="5" fill="#b83322"/>
<rect x="1140" y="680" width="8" height="15" fill="#a0ea78"/>
<rect x="1142" y="682" width="4" height="11" fill="#62a550"/>
<rect x="1150" y="675" width="8" height="5" fill="#a0ea78"/>
<rect x="1152" y="677" width="4" height="1" fill="#62a550"/>
<rect x="1160" y="675" width="8" height="3" fill="#fcbd8a"/>
<rect x="1169" y="646" width="8" height="32" fill="#a0ea78"/>
<rect x="1171" y="648" width="4" height="28" fill="#62a550"/>
<rect x="1179" y="636" width="8" height="10" fill="#a0ea78"/>
<rect x="1181" y="638" width="4" height="6" fill="#62a550"/>
<rect x="1188" y="636" width="8" height="12" fill="#fcbd8a"/>
<rect x="1190" y="638" width="4" height="8" fill="#b83322"/>
<rect x="1198" y="622" width="8" height="26" fill="#a0ea78"/>
<rect x="1200" y="624" width="4" height="22" fill="#62a550"/>
<rect x="1207" y="604" width="8" height="18" fill="#a0ea78"/>
<rect x="1209" y="606" width="4" height="14" fill="#62a550"/>
<rect x="1217" y="604" width="8" height="10" fill="#fcbd8a"/>
<rect x="1219" y="606" width="4" height="6" fill="#b83322"/>
<rect x="1227" y="566" width="8" height="48" fill="#a0ea78"/>
<rect x="1229" y="568" width="4" height="44" fill="#62a550"/>
<rect x="1236" y="562" width="8" height="4" fill="#a0ea78"/>
<rect x="1246" y="562" width="8" height="2" fill="#fcbd8a"/>
<rect x="1255" y="542" width="8" height="22" fill="#a0ea78"/>
<rect x="1257" y="544" width="4" height="18" fill="#62a550"/>
<rect x="1265" y="542" width="8" height="6" fill="#fcbd8a"/>
<rect x="1267" y="544" width="4" height="2" fill="#b83322"/>
<rect x="1275" y="539" width="8" height="9" fill="#a0ea78"/>
<rect x="1277" y="541" width="4" height="5" fill="#62a550"/>
<rect x="1284" y="539" width="8" height="19" fill="#fcbd8a"/>
<rect x="1286" y="541" width="4" height="15" fill="#b83322"/>
<rect x="1294" y="558" width="8" height="13" fill="#fcbd8a"/>
<rect x="1296" y="560" width="4" height="9" fill="#b83322"/>
<rect x="1303" y="571" width="8" height="12" fill="#fcbd8a"/>
<rect x="1305" y="573" width="4" height="8" fill="#b83322"/>
<rect x="1313" y="583" width="8" height="39" fill="#fcbd8a"/>
<rect x="1315" y="585" width="4" height="35" fill="#b83322"/>
<rect x="1322" y="622" width="8" height="15" fill="#fcbd8a"/>
<rect x="1324" y="624" width="4" height="11" fill="#b83322"/>
<rect x="1332" y="637" width="8" height="29" fill="#fcbd8a"/>
<rect x="1334" y="639" width="4" height="25" fill="#b83322"/>
<rect x="1342" y="666" width="8" height="28" fill="#fcbd8a"/>
<rect x="1344" y="668" width="4" height="24" fill="#b83322"/>
<rect x="1351" y="690" width="8" height="4" fill="#a0ea78"/>
<rect x="1361" y="681" width="8" height="9" fill="#a0ea78"/>
<rect x="1363" y="683" width="4" height="5" fill="#62a550"/>
<rect x="1370" y="681" width="8" height="35" fill="#fcbd8a"/>
<rect x="1372" y="683" width="4" height="31" fill="#b83322"/>
<rect x="1380" y="693" width="8" height="23" fill="#a0ea78"/>
<rect x="1382" y="695" width="4" height="19" fill="#62a550"/>
<rect x="1389" y="674" width="8" height="19" fill="#a0ea78"/>
<rect x="1391" y="676" width="4" height="15" fill="#62a550"/>
<rect x="1399" y="674" width="8" height="40" fill="#fcbd8a"/>
<rect x="1401" y="676" width="4" height="36" fill="#b83322"/>
<rect x="1409" y="710" width="8" height="4" fill="#a0ea78"/>
<rect x="1418" y="707" width="8" height="2" fill="#a0ea78"/>
<rect x="1428" y="707" width="8" height="2" fill="#a0ea78"/>
<rect x="1437" y="644" width="8" height="64" fill="#a0ea78"/>
<rect x="1439" y="646" width="4" height="60" fill="#62a550"/>
<rect x="1447" y="644" width="8" height="52" fill="#fcbd8a"/>
<rect x="1449" y="646" width="4" height="48" fill="#b83322"/>
<rect x="1457" y="697" width="8" height="2" fill="#fcbd8a"/>
<rect x="1466" y="698" width="8" height="24" fill="#fcbd8a"/>
<rect x="1468" y="700" width="4" height="20" fill="#b83322"/>
<rect x="1476" y="702" width="8" height="20" fill="#a0ea78"/>
<rect x="1478" y="704" width="4" height="16" fill="#62a550"/>
<rect x="1485" y="702" width="8" height="22" fill="#fcbd8a"/>
<rect x="1487" y="704" width="4" height="18" fill="#b83322"/>
<rect x="1495" y="718" width="8" height="6" fill="#a0ea78"/>
<rect x="1497" y="720" width="4" height="2" fill="#62a550"/>
<rect x="1504" y="711" width="8" height="7" fill="#a0ea78"/>
<rect x="1506" y="713" width="4" height="3" fill="#62a550"/>
<rect x="1514" y="711" width="8" height="21" fill="#fcbd8a"/>
<rect x="1516" y="713" width="4" height="17" fill="#b83322"/>
<rect x="1524" y="728" width="8" height="4" fill="#a0ea78"/>
<rect x="1533" y="728" width="8" height="20" fill="#fcbd8a"/>
<rect x="1535" y="730" width="4" height="16" fill="#b83322"/>
<rect x="1543" y="674" width="8" height="74" fill="#a0ea78"/>
<rect x="1545" y="676" width="4" height="70" fill="#62a550"/>
<rect x="1552" y="644" width="8" height="30" fill="#a0ea78"/>
<rect x="1554" y="646" width="4" height="26" fill="#62a550"/>
<rect x="1562" y="624" width="8" height="20" fill="#a0ea78"/>
<rect x="1564" y="626" width="4" height="16" fill="#62a550"/>
<rect x="1571" y="624" width="8" height="2" fill="#fcbd8a"/>
<rect x="1581" y="626" width="8" height="4" fill="#fcbd8a"/>
<rect x="1591" y="618" width="8" height="12" fill="#a0ea78"/>
<rect x="1593" y="620" width="4" height="8" fill="#62a550"/>
<rect x="1600" y="618" width="8" height="14" fill="#fcbd8a"/>
<rect x="1602" y="620" width="4" height="10" fill="#b83322"/>
<rect x="1610" y="632" width="8" height="14" fill="#fcbd8a"/>
<rect x="1612" y="634" width="4" height="10" fill="#b83322"/>
<rect x="1619" y="646" width="8" height="3" fill="#fcbd8a"/>
<rect x="1629" y="617" width="8" height="32" fill="#a0ea78"/>
<rect x="1631" y="619" width="4" height="28" fill="#62a550"/>
<rect x="1639" y="617" width="8" height="51" fill="#fcbd8a"/>
<rect x="1641" y="619" width="4" height="47" fill="#b83322"/>
<rect x="1648" y="629" width="8" height="39" fill="#a0ea78"/>
<rect x="1650" y="631" width="4" height="35" fill="#62a550"/>
<rect x="1658" y="629" width="8" height="51" fill="#fcbd8a"/>
<rect x="1660" y="631" width="4" height="47" fill="#b83322"/>
<rect x="1667" y="651" width="8" height="29" fill="#a0ea78"/>
<rect x="1669" y="653" width="4" height="25" fill="#62a550"/>
<rect x="1677" y="646" width="8" height="5" fill="#a0ea78"/>
<rect x="1679" y="648" width="4" height="1" fill="#62a550"/>
<rect x="1686" y="613" width="8" height="33" fill="#a0ea78"/>
<rect x="1688" y="615" width="4" height="29" fill="#62a550"/>
<rect x="1696" y="613" width="8" height="15" fill="#fcbd8a"/>
<rect x="1698" y="615" width="4" height="11" fill="#b83322"/>
<rect x="1706" y="628" width="8" height="16" fill="#fcbd8a"/>
<rect x="1708" y="630" width="4" height="12" fill="#b83322"/>
<rect x="1715" y="644" width="8" height="2" fill="#fcbd8a"/>
<rect x="1725" y="644" width="8" height="2" fill="#a0ea78"/>
<rect x="1734" y="629" width="8" height="17" fill="#a0ea78"/>
<rect x="1736" y="631" width="4" height="13" fill="#62a550"/>
<rect x="1744" y="629" width="8" height="22" fill="#fcbd8a"/>
<rect x="1746" y="631" width="4" height="18" fill="#b83322"/>
<rect x="1753" y="622" width="8" height="29" fill="#a0ea78"/>
<rect x="1755" y="624" width="4" height="25" fill="#62a550"/>
<rect x="1763" y="586" width="8" height="36" fill="#a0ea78"/>
<rect x="1765" y="588" width="4" height="32" fill="#62a550"/>
<rect x="1773" y="547" width="8" height="39" fill="#a0ea78"/>
<rect x="1775" y="549" width="4" height="35" fill="#62a550"/>
<rect x="1782" y="547" width="8" height="27" fill="#fcbd8a"/>
<rect x="1784" y="549" width="4" height="23" fill="#b83322"/>
<rect x="1792" y="572" width="8" height="2" fill="#a0ea78"/>
<rect x="1801" y="547" width="8" height="27" fill="#a0ea78"/>
<rect x="1803" y="549" width="4" height="23" fill="#62a550"/>
<rect x="1811" y="547" width="8" height="20" fill="#fcbd8a"/>
<rect x="1813" y="549" width="4" height="16" fill="#b83322"/>
<rect x="1820" y="563" width="8" height="4" fill="#a0ea78"/>
<rect x="1830" y="561" width="8" height="2" fill="#fcbd8a"/>
<rect x="1840" y="531" width="8" height="33" fill="#a0ea78"/>
<rect x="1842" y="533" width="4" height="29" fill="#62a550"/>
<rect x="1849" y="530" width="8" height="2" fill="#a0ea78"/>
<rect x="1859" y="505" width="8" height="26" fill="#a0ea78"/>
<rect x="1861" y="507" width="4" height="22" fill="#62a550"/>
<rect x="1868" y="488" width="8" height="17" fill="#a0ea78"/>
<rect x="1870" y="490" width="4" height="13" fill="#62a550"/>
<rect x="1878" y="458" width="8" height="30" fill="#a0ea78"/>
<rect x="1880" y="460" width="4" height="26" fill="#62a550"/>
<rect x="1888" y="458" width="8" height="7" fill="#fcbd8a"/>
<rect x="1890" y="460" width="4" height="3" fill="#b83322"/>
<rect x="1897" y="357" width="8" height="108" fill="#a0ea78"/>
<rect x="1899" y="359" width="4" height="104" fill="#62a550"/>
<rect x="1907" y="326" width="8" height="31" fill="#a0ea78"/>
<rect x="1909" y="328" width="4" height="27" fill="#62a550"/>
<rect x="1916" y="322" width="8" height="4" fill="#a0ea78"/>
<rect x="1926" y="319" width="8" height="2" fill="#a0ea78"/>
<rect x="1935" y="320" width="8" height="4" fill="#fcbd8a"/>
<rect x="1945" y="324" width="8" height="17" fill="#fcbd8a"/>
<rect x="1947" y="326" width="4" height="13" fill="#b83322"/>
<rect x="1955" y="342" width="8" height="5" fill="#fcbd8a"/>
<rect x="1957" y="344" width="4" height="1" fill="#b83322"/>
<rect x="1964" y="348" width="8" height="3" fill="#fcbd8a"/>
<rect x="1974" y="346" width="8" height="5" fill="#a0ea78"/>
<rect x="1976" y="348" width="4" height="1" fill="#62a550"/>
<rect x="1983" y="346" width="8" height="19" fill="#fcbd8a"/>
<rect x="1985" y="348" width="4" height="15" fill="#b83322"/>
<rect x="1993" y="365" width="8" height="27" fill="#fcbd8a"/>
<rect x="1995" y="367" width="4" height="23" fill="#b83322"/>
<rect x="2002" y="376" width="8" height="16" fill="#a0ea78"/>
<rect x="2004" y="378" width="4" height="12" fill="#62a550"/>
<rect x="2012" y="362" width="8" height="14" fill="#a0ea78"/>
<rect x="2014" y="364" width="4" height="10" fill="#62a550"/>
<rect x="2022" y="352" width="8" height="10" fill="#a0ea78"/>
<rect x="2024" y="354" width="4" height="6" fill="#62a550"/>
<rect x="2031" y="352" width="8" height="43" fill="#fcbd8a"/>
<rect x="2033" y="354" width="4" height="39" fill="#b83322"/>
<rect x="2041" y="395" width="8" height="51" fill="#fcbd8a"/>
<rect x="2043" y="397" width="4" height="47" fill="#b83322"/>
<rect x="2050" y="431" width="8" height="15" fill="#a0ea78"/>
<rect x="2052" y="433" width="4" height="11" fill="#62a550"/>
<rect x="2060" y="417" width="8" height="15" fill="#a0ea78"/>
<rect x="2062" y="419" width="4" height="11" fill="#62a550"/>
<rect x="2070" y="417" width="8" height="13" fill="#fcbd8a"/>
<rect x="2072" y="419" width="4" height="9" fill="#b83322"/>
<rect x="2079" y="430" width="8" height="58" fill="#fcbd8a"/>
<rect x="2081" y="432" width="4" height="54" fill="#b83322"/>
<rect x="2089" y="486" width="8" height="2" fill="#fcbd8a"/>
<rect x="2098" y="411" width="8" height="78" fill="#a0ea78"/>
<rect x="2100" y="413" width="4" height="74" fill="#62a550"/>
<rect x="2108" y="390" width="8" height="22" fill="#a0ea78"/>
<rect x="2110" y="392" width="4" height="18" fill="#62a550"/>
<rect x="2117" y="390" width="8" height="96" fill="#fcbd8a"/>
<rect x="2119" y="392" width="4" height="92" fill="#b83322"/>
<rect x="2127" y="486" width="8" height="47" fill="#fcbd8a"/>
<rect x="2129" y="488" width="4" height="43" fill="#b83322"/>
<rect x="2137" y="506" width="8" height="27" fill="#a0ea78"/>
<rect x="2139" y="508" width="4" height="23" fill="#62a550"/>
<rect x="2146" y="504" width="8" height="2" fill="#a0ea78"/>
<rect x="2156" y="504" width="8" height="6" fill="#fcbd8a"/>
<rect x="2158" y="506" width="4" height="2" fill="#b83322"/>
<rect x="2165" y="506" width="8" height="4" fill="#a0ea78"/>
<rect x="2175" y="505" width="8" height="2" fill="#fcbd8a"/>
<rect x="2184" y="507" width="8" height="17" fill="#fcbd8a"/>
<rect x="2186" y="509" width="4" height="13" fill="#b83322"/>
<rect x="2194" y="524" width="8" height="12" fill="#fcbd8a"/>
<rect x="2196" y="526" width="4" height="8" fill="#b83322"/>
<rect x="2204" y="533" width="8" height="3" fill="#a0ea78"/>
<line x1="1316.3" y1="919.8" x2="2543" y2="297.5" stroke="#d6d6d6" stroke-width="2.2" stroke-linecap="round"/>
</g>
<rect x="5" y="1071" width="2670" height="2" fill="#f0f0f0"/>
<rect x="5" y="1326" width="2670" height="2" fill="#8a8a8a"/>
<rect x="2543" y="0" width="2" height="1375" fill="#7a7a7a"/>
<g clip-path="url(#rsiclip)">
<rect x="5" y="1144" width="2538" height="154" fill="#0d0c18"/>
<g clip-path="url(#obclip)"><polygon points="5.0,1174.3 13.4,1167.6 22.9,1157.6 32.5,1175.1 43.1,1199.3 53.1,1185.7 63.1,1199.3 70.9,1240.2 79.3,1263.6 85.0,1272.0 91.0,1270.3 101.0,1267.3 108.8,1233.6 118.8,1244.4 128.5,1248.6 138.9,1257.3 149.1,1261.4 156.6,1227.7 166.9,1226.6 176.9,1216.9 186.9,1223.2 197.0,1229.4 205.6,1231.9 215.3,1231.1 225.3,1238.6 235.4,1246.1 245.0,1267.3 252.9,1255.3 262.9,1287.0 273.2,1294.8 282.1,1283.6 291.3,1272.3 300.5,1211.0 310.8,1219.9 320.5,1211.0 330.2,1206.0 338.8,1202.7 348.9,1194.8 358.9,1213.2 368.9,1208.5 378.9,1209.9 387.2,1175.5 397.3,1178.8 407.3,1178.1 417.3,1158.1 426.7,1159.3 445.0,1186.8 455.1,1186.3 464.7,1208.9 483.1,1201.0 492.6,1188.5 512.6,1220.2 521.0,1162.6 541.0,1173.5 551.0,1197.2 561.0,1192.2 569.1,1181.8 578.6,1165.5 589.4,1171.8 598.9,1154.8 609.1,1145.6 617.8,1174.8 627.0,1194.3 637.0,1189.7 647.0,1200.2 665.4,1191.5 674.6,1191.5 684.6,1203.5 702.9,1225.2 713.3,1207.7 723.0,1282.3 738.8,1298.3 743.0,1304.3 751.0,1240.6 760.5,1256.1 771.0,1264.9 780.5,1259.9 788.9,1260.3 798.9,1263.9 808.9,1269.1 818.9,1262.3 828.9,1260.6 837.3,1226.1 847.3,1241.1 857.2,1233.6 866.7,1213.5 876.7,1200.2 885.1,1218.2 895.1,1218.9 915.1,1222.2 925.1,1231.1 933.5,1233.2 943.5,1232.7 953.2,1222.7 963.5,1231.1 981.0,1260.3 991.9,1249.4 1001.9,1239.4 1010.3,1228.6 1018.9,1230.2 1028.6,1207.7 1038.6,1192.2 1049.5,1195.7 1058.7,1191.3 1067.0,1167.6 1077.0,1155.9 1086.7,1115.4 1107.1,1112.0 1114.6,1161.8 1124.6,1161.0 1134.9,1184.3 1144.6,1175.5 1153.0,1172.6 1163.3,1176.8 1172.2,1161.0 1183.0,1154.3 1192.7,1166.8 1200.5,1152.9 1210.6,1143.9 1220.6,1155.1 1230.6,1134.7 1240.6,1132.6 1249.0,1135.6 1259.0,1126.7 1269.2,1133.9 1279.2,1129.6 1288.4,1151.8 1296.7,1166.0 1307.6,1179.6 1316.8,1214.4 1326.8,1227.4 1335.1,1246.9 1345.1,1264.9 1355.1,1261.6 1365.2,1251.9 1375.2,1274.0 1383.5,1251.6 1393.0,1236.6 1403.0,1261.6 1413.6,1257.3 1431.1,1256.4 1441.1,1204.4 1450.8,1239.1 1461.1,1240.7 1471.2,1254.4 1479.0,1238.6 1489.0,1251.6 1499.0,1246.1 1509.0,1241.1 1517.0,1254.4 1527.1,1251.4 1537.1,1264.9 1546.8,1207.7 1556.3,1193.5 1565.1,1180.7 1575.5,1182.3 1585.0,1186.0 1594.7,1179.0 1604.4,1190.7 1613.0,1203.5 1623.0,1206.0 1633.1,1183.8 1643.1,1224.4 1653.1,1199.7 1661.1,1231.9 1670.6,1214.4 1680.6,1211.9 1690.8,1193.5 1700.0,1203.9 1709.2,1213.5 1719.2,1216.0 1729.2,1214.7 1738.8,1203.9 1747.1,1220.2 1756.8,1201.0 1766.8,1181.0 1776.8,1161.5 1786.8,1183.2 1795.2,1183.0 1804.9,1169.3 1814.9,1185.5 1825.2,1182.7 1835.2,1184.7 1842.7,1166.0 1852.8,1166.0 1862.8,1152.9 1872.8,1144.6 1881.1,1131.7 1891.2,1140.1 1900.7,1105.9 1911.2,1099.5 1928.7,1097.9 1938.7,1101.2 1948.7,1120.6 1958.8,1127.6 1968.8,1131.7 1977.1,1129.6 1987.1,1150.9 1997.1,1178.1 2007.2,1168.5 2015.5,1161.3 2024.7,1155.9 2034.7,1193.5 2045.2,1233.2 2054.7,1223.5 2063.1,1213.5 2073.1,1223.0 2082.8,1257.3 2093.2,1258.6 2102.7,1207.7 2111.1,1196.6 2120.7,1246.2 2131.0,1264.5 2141.3,1249.6 2151.3,1248.4 2159.2,1251.0 2169.3,1247.8 2179.3,1248.6 2188.8,1256.8 2198.9,1263.9 2207.7,1260.7 2207.7,1143.7 5.0,1143.7" fill="url(#obg)"/></g>
<line x1="5" y1="1144" x2="2543" y2="1144" stroke="#8a8d9c" stroke-width="2" stroke-dasharray="10 12"/>
<line x1="5" y1="1221" x2="2543" y2="1221" stroke="#50525e" stroke-width="2" stroke-dasharray="10 12"/>
<line x1="5" y1="1298" x2="2543" y2="1298" stroke="#8a8d9c" stroke-width="2" stroke-dasharray="10 12"/>
<path d="M5.0,1212.7 C6.7,1211.5 10.3,1209.4 15.0,1205.2 C19.7,1201.0 27.5,1192.4 33.4,1187.7 C39.2,1183.0 45.2,1179.7 50.1,1176.8 C55.0,1173.9 59.1,1171.3 62.6,1170.1 C66.1,1168.9 67.2,1167.6 70.9,1169.8 C74.7,1172.0 80.2,1178.8 85.1,1183.5 C90.0,1188.2 94.9,1193.3 100.2,1197.7 C105.5,1202.1 111.2,1206.2 116.8,1209.9 C122.3,1213.6 128.8,1216.9 133.5,1219.9 C138.2,1222.9 141.3,1225.3 145.2,1227.7 C149.1,1230.1 153.3,1232.7 156.9,1234.4 C160.5,1236.1 163.6,1236.9 166.9,1237.7 C170.2,1238.5 173.3,1238.6 176.9,1239.4 C180.5,1240.2 185.2,1241.9 188.6,1242.7 C191.9,1243.5 194.2,1244.2 197.0,1244.4 C199.8,1244.6 202.2,1244.5 205.3,1243.9 C208.4,1243.3 212.0,1241.5 215.3,1240.6 C218.6,1239.6 222.0,1238.8 225.3,1238.2 C228.7,1237.6 232.3,1236.8 235.4,1236.9 C238.5,1237.0 240.6,1238.0 243.7,1238.6 C246.8,1239.1 250.4,1239.4 253.7,1240.2 C257.0,1241.0 260.4,1242.3 263.7,1243.2 C267.0,1244.1 270.3,1245.0 273.7,1245.7 C277.1,1246.4 280.9,1246.6 283.8,1247.4 C286.7,1248.2 288.5,1250.0 291.3,1250.3 C294.1,1250.6 297.0,1249.6 300.5,1249.4 C304.0,1249.2 308.8,1249.5 312.1,1249.4 C315.4,1249.3 317.4,1249.4 320.5,1248.9 C323.6,1248.4 327.2,1247.3 330.5,1246.6 C333.8,1245.8 337.2,1245.2 340.5,1244.4 C343.8,1243.6 347.4,1242.6 350.5,1241.9 C353.6,1241.2 355.8,1241.0 358.9,1240.2 C362.0,1239.4 365.6,1238.3 368.9,1237.2 C372.2,1236.1 375.6,1235.3 378.9,1233.6 C382.2,1231.9 385.3,1229.7 388.9,1226.9 C392.5,1224.1 396.7,1220.2 400.6,1216.9 C404.5,1213.6 408.7,1210.1 412.3,1206.9 C415.9,1203.7 419.8,1199.7 422.3,1197.7 C424.8,1195.7 425.1,1195.8 427.5,1194.8 C429.9,1193.8 432.4,1192.6 436.7,1191.5 C441.0,1190.4 445.6,1188.7 453.4,1188.2 C461.2,1187.8 476.7,1189.0 483.4,1188.8 C490.1,1188.6 488.7,1187.0 493.4,1186.8 C498.1,1186.5 506.8,1187.4 511.8,1187.3 C516.8,1187.2 518.8,1186.3 523.5,1186.0 C528.2,1185.7 535.5,1184.8 540.2,1185.2 C544.9,1185.6 547.2,1187.2 551.9,1188.2 C556.6,1189.2 562.5,1190.9 568.6,1191.0 C574.7,1191.1 581.7,1190.7 588.6,1188.8 C595.5,1186.9 605.3,1181.5 610.3,1179.8 C615.3,1178.1 615.8,1178.6 618.6,1178.5 C621.4,1178.4 622.3,1179.4 627.0,1179.0 C631.7,1178.6 642.3,1176.3 647.0,1176.3 C651.7,1176.3 650.7,1177.9 655.4,1178.8 C660.1,1179.7 670.7,1181.2 675.4,1181.8 C680.1,1182.4 680.4,1181.8 683.7,1182.2 C687.0,1182.6 690.4,1183.0 695.4,1184.3 C700.4,1185.6 709.1,1188.0 713.8,1190.2 C718.5,1192.4 720.5,1194.8 723.8,1197.7 C727.1,1200.6 730.6,1204.1 733.8,1207.7 C737.0,1211.3 739.9,1216.6 743.0,1219.4 C746.1,1222.2 747.6,1222.0 752.2,1224.4 C756.8,1226.8 765.8,1231.3 770.5,1233.6 C775.2,1235.9 774.1,1234.9 780.5,1238.2 C786.9,1241.5 802.2,1250.2 808.9,1253.6 C815.6,1256.9 817.3,1257.2 820.6,1258.3 C823.9,1259.4 826.1,1259.9 828.9,1260.3 C831.7,1260.7 834.2,1260.1 837.3,1260.6 C840.4,1261.1 844.0,1263.4 847.3,1263.3 C850.6,1263.2 854.0,1261.3 857.2,1259.8 C860.4,1258.3 863.5,1256.6 866.7,1254.4 C870.0,1252.2 873.6,1248.2 876.7,1246.6 C879.8,1245.0 880.4,1246.2 885.1,1244.9 C889.8,1243.6 898.4,1240.8 905.1,1238.9 C911.8,1237.0 918.7,1235.3 925.1,1233.6 C931.5,1231.9 938.8,1230.1 943.5,1228.9 C948.2,1227.7 949.9,1227.3 953.2,1226.6 C956.5,1225.9 958.7,1224.8 963.5,1224.9 C968.3,1225.0 977.2,1226.6 981.9,1227.2 C986.6,1227.8 987.2,1227.8 991.9,1228.6 C996.6,1229.4 1005.8,1231.2 1010.3,1231.9 C1014.8,1232.7 1015.9,1233.0 1018.9,1233.1 C1021.9,1233.2 1025.3,1232.9 1028.6,1232.4 C1031.9,1231.9 1035.1,1230.9 1038.6,1230.2 C1042.1,1229.5 1046.2,1228.8 1049.5,1228.1 C1052.8,1227.3 1054.1,1227.8 1058.7,1225.7 C1063.3,1223.6 1071.5,1219.1 1077.0,1215.7 C1082.5,1212.3 1085.7,1210.6 1092.0,1205.2 C1098.3,1199.8 1109.2,1188.2 1114.6,1183.5 C1120.0,1178.8 1121.2,1178.6 1124.6,1176.8 C1128.0,1175.0 1131.6,1173.8 1134.9,1172.6 C1138.2,1171.3 1141.6,1170.6 1144.6,1169.3 C1147.6,1168.0 1148.4,1166.4 1153.0,1164.8 C1157.6,1163.2 1167.2,1160.9 1172.2,1159.6 C1177.2,1158.3 1179.6,1157.5 1183.0,1156.8 C1186.4,1156.0 1188.1,1155.6 1192.7,1155.1 C1197.3,1154.6 1205.9,1153.6 1210.6,1153.8 C1215.2,1154.0 1215.6,1155.4 1220.6,1156.4 C1225.6,1157.4 1234.2,1160.0 1240.6,1159.8 C1247.0,1159.6 1252.6,1157.4 1259.0,1155.4 C1265.4,1153.5 1272.9,1149.7 1279.2,1148.1 C1285.5,1146.5 1292.0,1146.0 1296.7,1145.9 C1301.4,1145.8 1302.6,1145.6 1307.6,1147.3 C1312.6,1149.0 1320.5,1151.9 1326.8,1155.9 C1333.0,1159.9 1340.4,1167.7 1345.1,1171.5 C1349.8,1175.3 1351.8,1175.9 1355.1,1178.5 C1358.4,1181.1 1360.5,1182.5 1365.2,1187.2 C1369.9,1191.9 1378.8,1201.9 1383.5,1206.4 C1388.2,1210.9 1390.2,1211.3 1393.5,1214.0 C1396.8,1216.7 1399.7,1219.4 1403.0,1222.4 C1406.3,1225.4 1408.9,1228.2 1413.6,1232.2 C1418.3,1236.2 1424.9,1243.2 1431.1,1246.1 C1437.3,1249.0 1444.1,1248.6 1450.8,1249.4 C1457.5,1250.2 1466.5,1251.2 1471.2,1251.1 C1475.9,1251.0 1474.4,1249.5 1479.0,1248.9 C1483.6,1248.3 1494.0,1247.9 1499.0,1247.4 C1504.0,1246.9 1506.0,1246.0 1509.0,1245.7 C1512.0,1245.4 1514.0,1245.6 1517.0,1245.7 C1520.0,1245.8 1523.8,1246.4 1527.1,1246.6 C1530.4,1246.8 1533.8,1247.2 1537.1,1246.6 C1540.4,1246.0 1543.6,1244.5 1546.8,1243.2 C1550.0,1242.0 1553.2,1240.8 1556.3,1239.1 C1559.3,1237.4 1561.9,1234.5 1565.1,1233.2 C1568.3,1232.0 1572.2,1232.5 1575.5,1231.6 C1578.8,1230.7 1580.2,1229.7 1585.0,1227.7 C1589.8,1225.7 1598.1,1221.9 1604.4,1219.4 C1610.7,1216.9 1618.2,1214.5 1623.0,1212.7 C1627.8,1210.9 1629.8,1209.3 1633.1,1208.5 C1636.4,1207.7 1639.8,1208.5 1643.1,1207.7 C1646.4,1206.9 1650.1,1204.8 1653.1,1203.9 C1656.1,1203.0 1658.2,1203.2 1661.1,1202.4 C1664.0,1201.6 1665.6,1199.3 1670.6,1198.8 C1675.5,1198.3 1684.4,1198.6 1690.8,1199.3 C1697.2,1200.0 1702.9,1201.6 1709.2,1203.0 C1715.5,1204.4 1722.1,1206.5 1728.4,1207.7 C1734.7,1208.9 1740.4,1209.5 1746.8,1209.9 C1753.2,1210.3 1761.8,1210.7 1766.8,1209.9 C1771.8,1209.1 1773.5,1206.0 1776.8,1204.9 C1780.1,1203.8 1782.1,1204.8 1786.8,1203.5 C1791.5,1202.2 1800.5,1198.7 1805.2,1197.3 C1809.9,1195.9 1811.9,1195.7 1815.2,1195.2 C1818.5,1194.7 1821.9,1194.7 1825.2,1194.3 C1828.5,1193.9 1830.6,1194.4 1835.2,1193.0 C1839.8,1191.6 1846.5,1188.3 1852.8,1185.7 C1859.1,1183.1 1868.1,1180.0 1872.8,1177.6 C1877.5,1175.1 1878.0,1172.9 1881.1,1171.0 C1884.2,1169.1 1886.2,1168.8 1891.2,1166.3 C1896.2,1163.8 1906.3,1158.5 1911.2,1155.9 C1916.1,1153.3 1917.5,1152.7 1920.4,1150.9 C1923.3,1149.1 1925.7,1146.9 1928.7,1145.1 C1931.8,1143.3 1933.7,1142.5 1938.7,1140.1 C1943.7,1137.7 1952.4,1133.5 1958.8,1130.9 C1965.2,1128.3 1972.4,1125.9 1977.1,1124.7 C1981.8,1123.5 1983.8,1123.7 1987.1,1123.9 C1990.4,1124.1 1991.8,1125.0 1997.1,1125.9 C2002.4,1126.9 2014.2,1128.9 2018.8,1129.6 C2023.4,1130.3 2022.0,1128.9 2024.7,1130.1 C2027.4,1131.3 2031.3,1133.9 2034.7,1136.8 C2038.1,1139.7 2040.5,1143.0 2045.2,1147.6 C2049.9,1152.2 2058.4,1160.0 2063.1,1164.3 C2067.8,1168.6 2068.2,1169.0 2073.1,1173.5 C2078.0,1178.0 2086.0,1186.9 2092.3,1191.5 C2098.6,1196.1 2106.2,1198.2 2111.1,1201.1 C2116.0,1204.0 2116.6,1205.5 2121.7,1208.7 C2126.8,1211.9 2136.9,1217.2 2141.8,1220.3 C2146.7,1223.4 2148.5,1225.0 2151.3,1227.2 C2154.1,1229.4 2155.8,1231.6 2158.7,1233.2 C2161.6,1234.8 2165.4,1236.2 2168.8,1237.0 C2172.2,1237.8 2175.9,1237.6 2179.3,1238.3 C2182.7,1239.0 2184.7,1239.5 2189.4,1241.0 C2194.1,1242.5 2204.6,1246.1 2207.7,1247.1" fill="none" stroke="#f5d94c" stroke-width="2" stroke-linejoin="round"/>
<polyline points="5.0,1174.3 13.4,1167.6 22.9,1157.6 32.5,1175.1 43.1,1199.3 53.1,1185.7 63.1,1199.3 70.9,1240.2 79.3,1263.6 85.0,1272.0 91.0,1270.3 101.0,1267.3 108.8,1233.6 118.8,1244.4 128.5,1248.6 138.9,1257.3 149.1,1261.4 156.6,1227.7 166.9,1226.6 176.9,1216.9 186.9,1223.2 197.0,1229.4 205.6,1231.9 215.3,1231.1 225.3,1238.6 235.4,1246.1 245.0,1267.3 252.9,1255.3 262.9,1287.0 273.2,1294.8 282.1,1283.6 291.3,1272.3 300.5,1211.0 310.8,1219.9 320.5,1211.0 330.2,1206.0 338.8,1202.7 348.9,1194.8 358.9,1213.2 368.9,1208.5 378.9,1209.9 387.2,1175.5 397.3,1178.8 407.3,1178.1 417.3,1158.1 426.7,1159.3 445.0,1186.8 455.1,1186.3 464.7,1208.9 483.1,1201.0 492.6,1188.5 512.6,1220.2 521.0,1162.6 541.0,1173.5 551.0,1197.2 561.0,1192.2 569.1,1181.8 578.6,1165.5 589.4,1171.8 598.9,1154.8 609.1,1145.6 617.8,1174.8 627.0,1194.3 637.0,1189.7 647.0,1200.2 665.4,1191.5 674.6,1191.5 684.6,1203.5 702.9,1225.2 713.3,1207.7 723.0,1282.3 738.8,1298.3 743.0,1304.3 751.0,1240.6 760.5,1256.1 771.0,1264.9 780.5,1259.9 788.9,1260.3 798.9,1263.9 808.9,1269.1 818.9,1262.3 828.9,1260.6 837.3,1226.1 847.3,1241.1 857.2,1233.6 866.7,1213.5 876.7,1200.2 885.1,1218.2 895.1,1218.9 915.1,1222.2 925.1,1231.1 933.5,1233.2 943.5,1232.7 953.2,1222.7 963.5,1231.1 981.0,1260.3 991.9,1249.4 1001.9,1239.4 1010.3,1228.6 1018.9,1230.2 1028.6,1207.7 1038.6,1192.2 1049.5,1195.7 1058.7,1191.3 1067.0,1167.6 1077.0,1155.9 1086.7,1115.4 1107.1,1112.0 1114.6,1161.8 1124.6,1161.0 1134.9,1184.3 1144.6,1175.5 1153.0,1172.6 1163.3,1176.8 1172.2,1161.0 1183.0,1154.3 1192.7,1166.8 1200.5,1152.9 1210.6,1143.9 1220.6,1155.1 1230.6,1134.7 1240.6,1132.6 1249.0,1135.6 1259.0,1126.7 1269.2,1133.9 1279.2,1129.6 1288.4,1151.8 1296.7,1166.0 1307.6,1179.6 1316.8,1214.4 1326.8,1227.4 1335.1,1246.9 1345.1,1264.9 1355.1,1261.6 1365.2,1251.9 1375.2,1274.0 1383.5,1251.6 1393.0,1236.6 1403.0,1261.6 1413.6,1257.3 1431.1,1256.4 1441.1,1204.4 1450.8,1239.1 1461.1,1240.7 1471.2,1254.4 1479.0,1238.6 1489.0,1251.6 1499.0,1246.1 1509.0,1241.1 1517.0,1254.4 1527.1,1251.4 1537.1,1264.9 1546.8,1207.7 1556.3,1193.5 1565.1,1180.7 1575.5,1182.3 1585.0,1186.0 1594.7,1179.0 1604.4,1190.7 1613.0,1203.5 1623.0,1206.0 1633.1,1183.8 1643.1,1224.4 1653.1,1199.7 1661.1,1231.9 1670.6,1214.4 1680.6,1211.9 1690.8,1193.5 1700.0,1203.9 1709.2,1213.5 1719.2,1216.0 1729.2,1214.7 1738.8,1203.9 1747.1,1220.2 1756.8,1201.0 1766.8,1181.0 1776.8,1161.5 1786.8,1183.2 1795.2,1183.0 1804.9,1169.3 1814.9,1185.5 1825.2,1182.7 1835.2,1184.7 1842.7,1166.0 1852.8,1166.0 1862.8,1152.9 1872.8,1144.6 1881.1,1131.7 1891.2,1140.1 1900.7,1105.9 1911.2,1099.5 1928.7,1097.9 1938.7,1101.2 1948.7,1120.6 1958.8,1127.6 1968.8,1131.7 1977.1,1129.6 1987.1,1150.9 1997.1,1178.1 2007.2,1168.5 2015.5,1161.3 2024.7,1155.9 2034.7,1193.5 2045.2,1233.2 2054.7,1223.5 2063.1,1213.5 2073.1,1223.0 2082.8,1257.3 2093.2,1258.6 2102.7,1207.7 2111.1,1196.6 2120.7,1246.2 2131.0,1264.5 2141.3,1249.6 2151.3,1248.4 2159.2,1251.0 2169.3,1247.8 2179.3,1248.6 2188.8,1256.8 2198.9,1263.9 2207.7,1260.7" fill="none" stroke="#7f5fcc" stroke-width="2" stroke-linejoin="round"/>
</g>
<g>
<path d="M25,1264.3 L92.6,1264.3 L79.6,1301.8 L37,1301.8 L37,1283.7 L25,1283.7 Z" fill="#111"/>
<path d="M29,1268.2 L53,1268.2 L53,1297.7 L40.9,1297.7 L40.9,1279.7 L29,1279.7 Z" fill="#dcdcdc"/>
<circle cx="62.9" cy="1273.9" r="6" fill="#dcdcdc"/>
<path d="M75.2,1268.2 L88.8,1268.2 L76.7,1297.7 L63.2,1297.7 Z" fill="#dcdcdc"/>
</g>
<text x="2563" y="137.9" font-size="24" fill="#dbdbdb" textLength="82" lengthAdjust="spacingAndGlyphs" stroke="#dbdbdb" stroke-width="0.45">1.19500</text>
<text x="2563" y="253.3" font-size="24" fill="#dbdbdb" textLength="82" lengthAdjust="spacingAndGlyphs" stroke="#dbdbdb" stroke-width="0.45">1.19000</text>
<text x="2563" y="345.2" font-size="24" fill="#dbdbdb" textLength="82" lengthAdjust="spacingAndGlyphs" stroke="#dbdbdb" stroke-width="0.45">1.18600</text>
<text x="2563" y="438.2" font-size="24" fill="#dbdbdb" textLength="82" lengthAdjust="spacingAndGlyphs" stroke="#dbdbdb" stroke-width="0.45">1.18200</text>
<text x="2563" y="624.4" font-size="24" fill="#dbdbdb" textLength="82" lengthAdjust="spacingAndGlyphs" stroke="#dbdbdb" stroke-width="0.45">1.17400</text>
<text x="2563" y="717.8" font-size="24" fill="#dbdbdb" textLength="82" lengthAdjust="spacingAndGlyphs" stroke="#dbdbdb" stroke-width="0.45">1.17000</text>
<text x="2563" y="787.8" font-size="24" fill="#dbdbdb" textLength="82" lengthAdjust="spacingAndGlyphs" stroke="#dbdbdb" stroke-width="0.45">1.16700</text>
<text x="2563" y="858.9" font-size="24" fill="#dbdbdb" textLength="82" lengthAdjust="spacingAndGlyphs" stroke="#dbdbdb" stroke-width="0.45">1.16400</text>
<text x="2563" y="1000.9" font-size="24" fill="#dbdbdb" textLength="82" lengthAdjust="spacingAndGlyphs" stroke="#dbdbdb" stroke-width="0.45">1.15800</text>
<text x="2563" y="1061.8" font-size="24" fill="#dbdbdb" textLength="82" lengthAdjust="spacingAndGlyphs" stroke="#dbdbdb" stroke-width="0.45">1.15540</text>
<text x="2563" y="530.5" font-size="24" fill="#dbdbdb" textLength="82" lengthAdjust="spacingAndGlyphs" stroke="#dbdbdb" stroke-width="0.45">1.17800</text>
<path d="M2545,68.0 L2652,68.0 Q2657,68.0 2657,73.0 L2657,88.5 Q2657,93.5 2652,93.5 L2545,93.5 Z" fill="#ffffff"/>
<text x="2563" y="85.5" font-size="24" fill="#131313" textLength="82" lengthAdjust="spacingAndGlyphs" stroke="#131313" stroke-width="0.45">1.19728</text>
<path d="M2545,185.5 L2652,185.5 Q2657,185.5 2657,190.5 L2657,213.5 Q2657,218.5 2652,218.5 L2545,218.5 Z" fill="#ffffff"/>
<text x="2563" y="210.5" font-size="24" fill="#131313" textLength="82" lengthAdjust="spacingAndGlyphs" stroke="#131313" stroke-width="0.45">1.19183</text>
<path d="M2545,291.5 L2652,291.5 Q2657,291.5 2657,296.5 L2657,319.5 Q2657,324.5 2652,324.5 L2545,324.5 Z" fill="#ffffff"/>
<text x="2563" y="316.5" font-size="24" fill="#131313" textLength="82" lengthAdjust="spacingAndGlyphs" stroke="#131313" stroke-width="0.45">1.18721</text>
<path d="M2545,657.5 L2652,657.5 Q2657,657.5 2657,662.5 L2657,685.5 Q2657,690.5 2652,690.5 L2545,690.5 Z" fill="#ffffff"/>
<text x="2563" y="682.5" font-size="24" fill="#131313" textLength="82" lengthAdjust="spacingAndGlyphs" stroke="#131313" stroke-width="0.45">1.17149</text>
<path d="M2545,789.5 L2652,789.5 Q2657,789.5 2657,794.5 L2657,817.5 Q2657,822.5 2652,822.5 L2545,822.5 Z" fill="#ffffff"/>
<text x="2563" y="814.5" font-size="24" fill="#131313" textLength="82" lengthAdjust="spacingAndGlyphs" stroke="#131313" stroke-width="0.45">1.16586</text>
<path d="M2545,898.5 L2652,898.5 Q2657,898.5 2657,903.5 L2657,926.5 Q2657,931.5 2652,931.5 L2545,931.5 Z" fill="#ffffff"/>
<text x="2563" y="923.5" font-size="24" fill="#131313" textLength="82" lengthAdjust="spacingAndGlyphs" stroke="#131313" stroke-width="0.45">1.16126</text>
<path d="M2545,479 L2652,479 Q2657,479 2657,484 L2657,507.5 Q2657,512.5 2652,512.5 L2545,512.5 Z" fill="#6aa85a"/>
<text x="2563" y="504.5" font-size="24" fill="#ffffff" textLength="82" lengthAdjust="spacingAndGlyphs" stroke="#ffffff" stroke-width="0.45">1.17913</text>
<path d="M2545,516.5 L2660,516.5 Q2665,516.5 2665,521.5 L2665,572 Q2665,577 2660,577 L2545,577 Z" fill="#62a352"/>
<text x="2563" y="541.9" font-size="24" fill="#ffffff" textLength="82" lengthAdjust="spacingAndGlyphs" stroke="#ffffff" stroke-width="0.45">1.17754</text>
<text x="2560" y="570.2" font-size="24" fill="#d5ead0" textLength="93.5" lengthAdjust="spacingAndGlyphs" stroke="#d5ead0" stroke-width="0.45">01:09:33</text>
<path d="M2446,516.5 L2543,516.5 L2543,549.7 L2446,549.7 Q2441,549.7 2441,544.7 L2441,521.5 Q2441,516.5 2446,516.5 Z" fill="#62a352"/>
<text x="2451" y="541.5" font-size="24" fill="#ffffff" textLength="84" lengthAdjust="spacingAndGlyphs" stroke="#ffffff" stroke-width="0.45">EURUSD</text>
<text x="2561" y="1115.4" font-size="24" fill="#dbdbdb" textLength="58" lengthAdjust="spacingAndGlyphs" stroke="#dbdbdb" stroke-width="0.45">80.00</text>
<text x="2561" y="1192.2" font-size="24" fill="#dbdbdb" textLength="58" lengthAdjust="spacingAndGlyphs" stroke="#dbdbdb" stroke-width="0.45">60.00</text>
<text x="2561" y="1268.4" font-size="24" fill="#dbdbdb" textLength="58" lengthAdjust="spacingAndGlyphs" stroke="#dbdbdb" stroke-width="0.45">40.00</text>
<rect x="2552.3" y="9.6" width="113.4" height="48.9" rx="7" fill="#111" stroke="#4d4d4d" stroke-width="2"/>
<text x="2559.5" y="42.3" font-size="23" fill="#dbdbdb" textLength="41" lengthAdjust="spacingAndGlyphs" stroke="#dbdbdb" stroke-width="0.45">USD</text>
<polyline points="2648,32 2652,36 2656,32" fill="none" stroke="#e0e0e0" stroke-width="2" stroke-linecap="round" stroke-linejoin="round"/>
<polygon points="2596,1354.9 2602.5,1343 2617.3,1343 2624,1354.9 2617.3,1367 2602.5,1367" fill="none" stroke="#e0e0e0" stroke-width="2" stroke-linejoin="round"/>
<circle cx="2609.9" cy="1354.9" r="3.8" fill="none" stroke="#e0e0e0" stroke-width="2"/>
<clipPath id="taclip"><rect x="5" y="1328" width="2538" height="47"/></clipPath><g clip-path="url(#taclip)">
<text x="4.1" y="1362.5" font-size="24" fill="#dbdbdb" text-anchor="middle" font-weight="normal" stroke="#dbdbdb" stroke-width="0.45">25</text>
<text x="119.1" y="1362.5" font-size="24" fill="#dbdbdb" text-anchor="middle" font-weight="normal" stroke="#dbdbdb" stroke-width="0.45">26</text>
<text x="234.2" y="1362.5" font-size="24" fill="#dbdbdb" text-anchor="middle" font-weight="normal" stroke="#dbdbdb" stroke-width="0.45">27</text>
<text x="349.4" y="1362.5" font-size="24" fill="#dbdbdb" text-anchor="middle" font-weight="normal" stroke="#dbdbdb" stroke-width="0.45">28</text>
<text x="464.1" y="1362.5" font-size="24" fill="#dbdbdb" text-anchor="middle" font-weight="normal" stroke="#dbdbdb" stroke-width="0.45">29</text>
<text x="579.3" y="1362.5" font-size="24" fill="#dbdbdb" text-anchor="middle" font-weight="bold" stroke="#dbdbdb" stroke-width="0.45">Sep</text>
<text x="693.5" y="1362.5" font-size="24" fill="#dbdbdb" text-anchor="middle" font-weight="normal" stroke="#dbdbdb" stroke-width="0.45">2</text>
<text x="809.0" y="1362.5" font-size="24" fill="#dbdbdb" text-anchor="middle" font-weight="normal" stroke="#dbdbdb" stroke-width="0.45">3</text>
<text x="924.0" y="1362.5" font-size="24" fill="#dbdbdb" text-anchor="middle" font-weight="normal" stroke="#dbdbdb" stroke-width="0.45">4</text>
<text x="1039.0" y="1362.5" font-size="24" fill="#dbdbdb" text-anchor="middle" font-weight="normal" stroke="#dbdbdb" stroke-width="0.45">5</text>
<text x="1154.0" y="1362.5" font-size="24" fill="#dbdbdb" text-anchor="middle" font-weight="normal" stroke="#dbdbdb" stroke-width="0.45">8</text>
<text x="1269.5" y="1362.5" font-size="24" fill="#dbdbdb" text-anchor="middle" font-weight="normal" stroke="#dbdbdb" stroke-width="0.45">9</text>
<text x="1384.4" y="1362.5" font-size="24" fill="#dbdbdb" text-anchor="middle" font-weight="normal" stroke="#dbdbdb" stroke-width="0.45">10</text>
<text x="1497.8" y="1362.5" font-size="24" fill="#dbdbdb" text-anchor="middle" font-weight="normal" stroke="#dbdbdb" stroke-width="0.45">11</text>
<text x="1613.8" y="1362.5" font-size="24" fill="#dbdbdb" text-anchor="middle" font-weight="normal" stroke="#dbdbdb" stroke-width="0.45">12</text>
<text x="1728.8" y="1362.5" font-size="24" fill="#dbdbdb" text-anchor="middle" font-weight="normal" stroke="#dbdbdb" stroke-width="0.45">15</text>
<text x="1843.8" y="1362.5" font-size="24" fill="#dbdbdb" text-anchor="middle" font-weight="normal" stroke="#dbdbdb" stroke-width="0.45">16</text>
<text x="1958.8" y="1362.5" font-size="24" fill="#dbdbdb" text-anchor="middle" font-weight="normal" stroke="#dbdbdb" stroke-width="0.45">17</text>
<text x="2073.8" y="1362.5" font-size="24" fill="#dbdbdb" text-anchor="middle" font-weight="normal" stroke="#dbdbdb" stroke-width="0.45">18</text>
<text x="2189.3" y="1362.5" font-size="24" fill="#dbdbdb" text-anchor="middle" font-weight="normal" stroke="#dbdbdb" stroke-width="0.45">19</text>
<text x="2303.7" y="1362.5" font-size="24" fill="#dbdbdb" text-anchor="middle" font-weight="normal" stroke="#dbdbdb" stroke-width="0.45">22</text>
<text x="2418.2" y="1362.5" font-size="24" fill="#dbdbdb" text-anchor="middle" font-weight="normal" stroke="#dbdbdb" stroke-width="0.45">23</text>
<text x="2532.7" y="1362.5" font-size="24" fill="#dbdbdb" text-anchor="middle" font-weight="normal" stroke="#dbdbdb" stroke-width="0.45">24</text>
</g>
<g>
<clipPath id="usclip"><circle cx="47.5" cy="24.8" r="12"/></clipPath>
<g clip-path="url(#usclip)">
<rect x="35" y="12" width="25" height="26" fill="#ffffff"/>
<rect x="35" y="12" width="25" height="3.2" fill="#d9534f"/>
<rect x="35" y="18.4" width="25" height="3.2" fill="#d9534f"/>
<rect x="35" y="24.8" width="25" height="3.2" fill="#d9534f"/>
<rect x="35" y="31.2" width="25" height="3.2" fill="#d9534f"/>
<rect x="35" y="12" width="15" height="15" fill="#4a78d6"/>
<circle cx="42" cy="17" r="1" fill="#fff"/><circle cx="46" cy="17" r="1" fill="#fff"/><circle cx="42" cy="21" r="1" fill="#fff"/><circle cx="46" cy="21" r="1" fill="#fff"/><circle cx="46" cy="25" r="1" fill="#fff"/>
</g>
<circle cx="35" cy="38" r="14.5" fill="#000"/>
<circle cx="35" cy="38" r="12" fill="#3f6dc6"/>

<circle cx="35.00" cy="30.40" r="1.45" fill="#f2d640"/>
<circle cx="38.80" cy="31.42" r="1.45" fill="#f2d640"/>
<circle cx="41.58" cy="34.20" r="1.45" fill="#f2d640"/>
<circle cx="42.60" cy="38.00" r="1.45" fill="#f2d640"/>
<circle cx="41.58" cy="41.80" r="1.45" fill="#f2d640"/>
<circle cx="38.80" cy="44.58" r="1.45" fill="#f2d640"/>
<circle cx="35.00" cy="45.60" r="1.45" fill="#f2d640"/>
<circle cx="31.20" cy="44.58" r="1.45" fill="#f2d640"/>
<circle cx="28.42" cy="41.80" r="1.45" fill="#f2d640"/>
<circle cx="27.40" cy="38.00" r="1.45" fill="#f2d640"/>
<circle cx="28.42" cy="34.20" r="1.45" fill="#f2d640"/>
<circle cx="31.20" cy="31.42" r="1.45" fill="#f2d640"/>
</g>
<text x="66.6" y="44" font-size="33.5" fill="#dbdbdb" font-weight="normal" textLength="413.5" lengthAdjust="spacingAndGlyphs" stroke="#dbdbdb" stroke-width="0.45">Euro / U.S. Dollar · 2h · FXCM</text>
<circle cx="528" cy="32" r="17.9" fill="#0f1a17"/><circle cx="528" cy="31.8" r="8" fill="#549b8b"/>
<text x="578.5" y="41.2" font-size="27.5" fill="#dbdbdb" font-weight="normal" textLength="17" lengthAdjust="spacingAndGlyphs" stroke="#dbdbdb" stroke-width="0.45">O</text>
<text x="599.8" y="41.2" font-size="27.5" fill="#8fdd6f" font-weight="normal" textLength="88.5" lengthAdjust="spacingAndGlyphs" stroke="#8fdd6f" stroke-width="0.45">1.17739</text>
<text x="701.5" y="41.2" font-size="27.5" fill="#dbdbdb" font-weight="normal" textLength="16.5" lengthAdjust="spacingAndGlyphs" stroke="#dbdbdb" stroke-width="0.45">H</text>
<text x="721.9" y="41.2" font-size="27.5" fill="#8fdd6f" font-weight="normal" textLength="87.6" lengthAdjust="spacingAndGlyphs" stroke="#8fdd6f" stroke-width="0.45">1.17777</text>
<text x="825.4" y="41.2" font-size="27.5" fill="#dbdbdb" font-weight="normal" textLength="11" lengthAdjust="spacingAndGlyphs" stroke="#dbdbdb" stroke-width="0.45">L</text>
<text x="836.5" y="41.2" font-size="27.5" fill="#8fdd6f" font-weight="normal" textLength="92.3" lengthAdjust="spacingAndGlyphs" stroke="#8fdd6f" stroke-width="0.45">1.17713</text>
<text x="941.7" y="41.2" font-size="27.5" fill="#dbdbdb" font-weight="normal" textLength="16.5" lengthAdjust="spacingAndGlyphs" stroke="#dbdbdb" stroke-width="0.45">C</text>
<text x="960.7" y="41.2" font-size="27.5" fill="#8fdd6f" font-weight="normal" textLength="89.1" lengthAdjust="spacingAndGlyphs" stroke="#8fdd6f" stroke-width="0.45">1.17754</text>
<text x="1064.1" y="41.2" font-size="27.5" fill="#8fdd6f" font-weight="normal" textLength="103.5" lengthAdjust="spacingAndGlyphs" stroke="#8fdd6f" stroke-width="0.45">+0.00015</text>
<text x="1175.5" y="41.2" font-size="27.5" fill="#8fdd6f" font-weight="normal" textLength="97.1" lengthAdjust="spacingAndGlyphs" stroke="#8fdd6f" stroke-width="0.45">(+0.01%)</text>
<rect x="22.3" y="65" width="132.4" height="65.6" rx="11" fill="#111" stroke="#e04c4c" stroke-width="2"/>
<rect x="217.1" y="65" width="132.5" height="65.6" rx="11" fill="#111" stroke="#3d6cf0" stroke-width="2"/>
<text x="45" y="93.1" font-size="23" fill="#e85454" font-weight="normal" textLength="76.5" lengthAdjust="spacingAndGlyphs" stroke="#e85454" stroke-width="0.5">1.1775</text>
<text x="122.5" y="89" font-size="19" fill="#e85454" font-weight="normal" textLength="10.3" lengthAdjust="spacingAndGlyphs" stroke="#e85454" stroke-width="0.4">4</text>
<text x="65.2" y="119.8" font-size="22.6" fill="#e85454" font-weight="normal" textLength="45.9" lengthAdjust="spacingAndGlyphs" stroke="#e85454" stroke-width="0.45">SELL</text>
<text x="172.3" y="104.9" font-size="18" fill="#e2e2e2" font-weight="normal" textLength="27.4" lengthAdjust="spacingAndGlyphs" stroke="#e2e2e2" stroke-width="0.45">0.2</text>
<text x="240.5" y="93.1" font-size="23" fill="#4a78f7" font-weight="normal" textLength="76.5" lengthAdjust="spacingAndGlyphs" stroke="#4a78f7" stroke-width="0.5">1.1775</text>
<text x="318.2" y="89" font-size="19" fill="#4a78f7" font-weight="normal" textLength="10.3" lengthAdjust="spacingAndGlyphs" stroke="#4a78f7" stroke-width="0.4">6</text>
<text x="264" y="119.8" font-size="22.6" fill="#4a78f7" font-weight="normal" textLength="38.6" lengthAdjust="spacingAndGlyphs" stroke="#4a78f7" stroke-width="0.45">BUY</text>
<text x="22.5" y="172.8" font-size="27.2" fill="#dbdbdb" font-weight="normal" textLength="162.3" lengthAdjust="spacingAndGlyphs" stroke="#dbdbdb" stroke-width="0.45">EMA 200 close</text>
<text x="202.4" y="172.8" font-size="27.2" fill="#3b4cf0" font-weight="normal" textLength="88.4" lengthAdjust="spacingAndGlyphs" stroke="#3b4cf0" stroke-width="0.45">1.17353</text>
<text x="22.5" y="220.8" font-size="27.2" fill="#dbdbdb" font-weight="normal" textLength="148.7" lengthAdjust="spacingAndGlyphs" stroke="#dbdbdb" stroke-width="0.45">EMA 50 close</text>
<text x="188.9" y="220.8" font-size="27.2" fill="#e0484a" font-weight="normal" textLength="87.7" lengthAdjust="spacingAndGlyphs" stroke="#e0484a" stroke-width="0.45">1.17941</text>
<rect x="22.2" y="243.1" width="55.6" height="39.7" rx="6" fill="#000" stroke="#474747" stroke-width="2"/>
<polyline points="42.8,266.4 49.9,259.6 56.9,266.3" fill="none" stroke="#e4e4e4" stroke-width="2.3" stroke-linecap="round" stroke-linejoin="miter"/>
<text x="22.8" y="1113.9" font-size="27.3" fill="#dbdbdb" font-weight="normal" textLength="135.5" lengthAdjust="spacingAndGlyphs" stroke="#dbdbdb" stroke-width="0.45">RSI 14 close</text>
<text x="175.6" y="1113.9" font-size="27.3" fill="#7f5fcc" font-weight="normal" textLength="60" lengthAdjust="spacingAndGlyphs" stroke="#7f5fcc" stroke-width="0.45">39.61</text>
<text x="250.6" y="1113.9" font-size="27.3" fill="#f5d94c" font-weight="normal" textLength="64" lengthAdjust="spacingAndGlyphs" stroke="#f5d94c" stroke-width="0.45">43.20</text>
</svg></body></html>
